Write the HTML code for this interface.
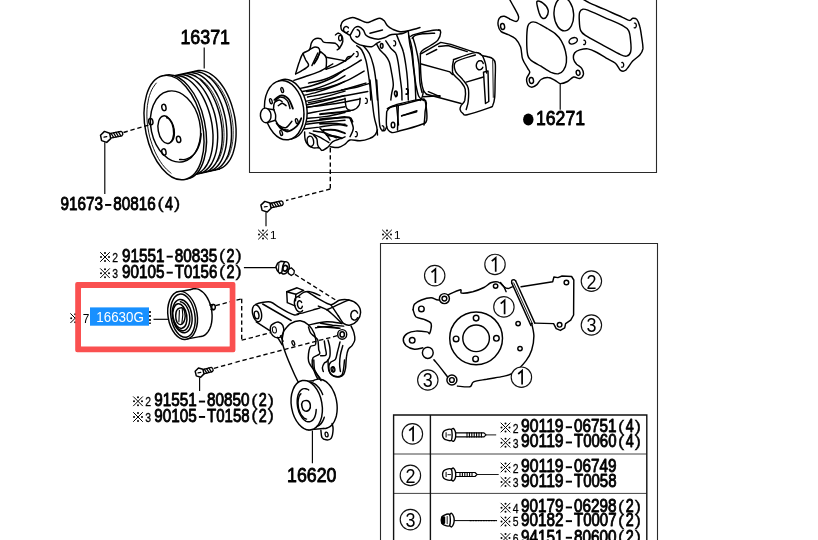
<!DOCTYPE html>
<html>
<head>
<meta charset="utf-8">
<title>Parts diagram</title>
<style>
html,body{margin:0;padding:0;background:#fff;}
body{width:818px;height:540px;overflow:hidden;position:relative;font-family:"Liberation Serif",serif;}
svg{position:absolute;left:0;top:0;display:block;will-change:transform;}
.t{font-family:"Liberation Sans",sans-serif;font-weight:normal;fill:#000;stroke:#000;stroke-width:0.9;stroke-linejoin:round;}
.p{font-family:"Liberation Sans",sans-serif;fill:#000;stroke:#000;stroke-width:0.35;}
.k{font-family:"Liberation Sans",sans-serif;fill:#000;stroke:#000;stroke-width:0.3;}
.s{font-family:"Liberation Sans",sans-serif;fill:#000;}
.l{fill:none;stroke:#000;stroke-width:1.45;stroke-linecap:round;stroke-linejoin:round;}
.lw{fill:#fff;stroke:#000;stroke-width:1.45;stroke-linecap:round;stroke-linejoin:round;}
.ld{fill:none;stroke:#000;stroke-width:1.15;}
.d{fill:none;stroke:#000;stroke-width:1.35;stroke-dasharray:4.4 2.8;}
.b{fill:none;stroke:#2a2a2a;stroke-width:1.1;}
</style>
</head>
<body>
<svg width="818" height="540" viewBox="0 0 818 540">
<defs>
<g id="kome">
<path d="M-4.8,-4.8 L4.8,4.8 M4.8,-4.8 L-4.8,4.8" stroke="#000" stroke-width="1" fill="none"/>
<circle cx="0" cy="-4" r="1"/><circle cx="0" cy="4" r="1"/><circle cx="-4" cy="0" r="1"/><circle cx="4" cy="0" r="1"/>
</g>
</defs>

<!-- BOXES -->
<g id="boxes">
<path class="b" d="M249.5,0 V172.5 H656.5 V0"/>
<path class="b" d="M380.5,540 V243.5 H657.5 V540"/>
<path class="b" d="M393.5,454 H646.5 M393.5,493.4 H646.5" style="stroke:#444;stroke-width:1"/>
<path class="b" d="M393.6,540 V415 H646.8 V540 M430.4,415 V540" style="stroke:#111;stroke-width:1.4"/>
</g>

<g id="pulley">
<path class="l" d="M197.5,70.6C198.2,70.6 200.4,70.4 202,70.6C203.5,70.8 205,71.2 206.6,71.9C208.1,72.5 209.7,73.3 211.2,74.4C212.8,75.4 214.3,76.6 215.8,78C217.2,79.4 218.7,81 220.1,82.7C221.5,84.5 222.8,86.4 224.1,88.4C225.3,90.4 226.5,92.6 227.6,94.9C228.7,97.2 229.7,99.6 230.6,102C231.5,104.5 232.3,107.1 233,109.6C233.7,112.2 234.3,114.9 234.8,117.5C235.3,120.1 235.6,122.8 235.8,125.5C236.1,128.1 236.2,130.7 236.1,133.3C236.1,135.8 236,138.3 235.7,140.7C235.4,143.1 235.1,145.5 234.5,147.7C234,149.9 233.4,152 232.7,153.9C231.9,155.9 231.1,157.7 230.2,159.3C229.2,160.9 228.2,162.4 227,163.7C225.9,165 224.7,166.1 223.4,167C222.1,167.9 220,168.7 219.4,169.1"/>
<path class="l" d="M192.8,71.7C193.6,71.7 195.8,71.4 197.3,71.7C198.9,71.9 200.4,72.3 202,72.9C203.5,73.5 205.1,74.4 206.6,75.4C208.1,76.4 209.7,77.6 211.2,79C212.6,80.4 214.1,82 215.5,83.8C216.8,85.5 218.2,87.4 219.4,89.5C220.7,91.5 221.9,93.7 223,95.9C224.1,98.2 225.1,100.6 226,103.1C226.9,105.5 227.7,108.1 228.4,110.7C229.1,113.3 229.7,115.9 230.2,118.6C230.6,121.2 231,123.9 231.2,126.5C231.4,129.1 231.5,131.7 231.5,134.3C231.5,136.8 231.4,139.4 231.1,141.8C230.8,144.2 230.4,146.5 229.9,148.7C229.4,150.9 228.8,153 228.1,155C227.3,156.9 226.5,158.7 225.5,160.3C224.6,162 223.5,163.5 222.4,164.7C221.3,166 220.1,167.1 218.8,168C217.5,168.9 215.4,169.8 214.8,170.1"/>
<path class="l" d="M188.2,72.7C189,72.7 191.2,72.5 192.7,72.7C194.2,72.9 195.8,73.3 197.4,73.9C198.9,74.6 200.5,75.4 202,76.4C203.5,77.4 205.1,78.7 206.5,80.1C208,81.5 209.5,83.1 210.8,84.8C212.2,86.5 213.6,88.5 214.8,90.5C216.1,92.5 217.3,94.7 218.4,97C219.5,99.3 220.5,101.7 221.4,104.1C222.3,106.6 223.1,109.1 223.8,111.7C224.5,114.3 225.1,117 225.6,119.6C226,122.2 226.4,124.9 226.6,127.5C226.8,130.1 226.9,132.8 226.9,135.3C226.9,137.9 226.7,140.4 226.5,142.8C226.2,145.2 225.8,147.5 225.3,149.7C224.8,151.9 224.2,154.1 223.4,156C222.7,157.9 221.9,159.8 220.9,161.4C220,163 218.9,164.5 217.8,165.8C216.7,167.1 215.5,168.2 214.2,169.1C212.9,170 210.8,170.8 210.1,171.1"/>
<path class="l" d="M183.6,73.7C184.3,73.7 186.6,73.5 188.1,73.7C189.6,73.9 191.2,74.4 192.7,75C194.3,75.6 195.8,76.4 197.4,77.5C198.9,78.5 200.4,79.7 201.9,81.1C203.4,82.5 204.8,84.1 206.2,85.8C207.6,87.6 209,89.5 210.2,91.5C211.5,93.6 212.7,95.7 213.7,98C214.8,100.3 215.9,102.7 216.8,105.2C217.7,107.6 218.5,110.2 219.2,112.8C219.9,115.3 220.5,118 220.9,120.6C221.4,123.3 221.8,125.9 222,128.6C222.2,131.2 222.3,133.8 222.3,136.4C222.3,138.9 222.1,141.4 221.9,143.8C221.6,146.2 221.2,148.6 220.7,150.8C220.2,153 219.5,155.1 218.8,157C218.1,159 217.2,160.8 216.3,162.4C215.4,164 214.3,165.5 213.2,166.8C212.1,168.1 210.8,169.2 209.6,170.1C208.3,171 206.2,171.8 205.5,172.2"/>
<path class="l" d="M179,74.8C179.7,74.8 182,74.6 183.5,74.8C185,75 186.6,75.4 188.1,76C189.7,76.6 191.2,77.5 192.8,78.5C194.3,79.5 195.8,80.8 197.3,82.1C198.8,83.5 200.2,85.1 201.6,86.9C203,88.6 204.3,90.5 205.6,92.6C206.8,94.6 208,96.8 209.1,99.1C210.2,101.3 211.2,103.7 212.1,106.2C213.1,108.6 213.9,111.2 214.6,113.8C215.3,116.4 215.8,119 216.3,121.7C216.8,124.3 217.1,127 217.4,129.6C217.6,132.2 217.7,134.9 217.7,137.4C217.6,139.9 217.5,142.5 217.2,144.9C217,147.3 216.6,149.6 216.1,151.8C215.6,154 214.9,156.1 214.2,158.1C213.5,160 212.6,161.8 211.7,163.5C210.7,165.1 209.7,166.6 208.6,167.8C207.4,169.1 206.2,170.2 204.9,171.1C203.7,172 201.6,172.9 200.9,173.2"/>
<path class="l" d="M174.4,75.8C175.1,75.8 177.3,75.6 178.9,75.8C180.4,76 181.9,76.4 183.5,77C185,77.7 186.6,78.5 188.1,79.5C189.7,80.6 191.2,81.8 192.7,83.2C194.1,84.6 195.6,86.2 197,87.9C198.4,89.6 199.7,91.6 201,93.6C202.2,95.6 203.4,97.8 204.5,100.1C205.6,102.4 206.6,104.8 207.5,107.2C208.4,109.7 209.2,112.2 209.9,114.8C210.6,117.4 211.2,120.1 211.7,122.7C212.2,125.3 212.5,128 212.7,130.6C213,133.3 213.1,135.9 213,138.4C213,141 212.9,143.5 212.6,145.9C212.3,148.3 212,150.7 211.4,152.9C210.9,155.1 210.3,157.2 209.6,159.1C208.8,161 208,162.9 207.1,164.5C206.1,166.1 205.1,167.6 203.9,168.9C202.8,170.2 201.6,171.3 200.3,172.2C199,173.1 196.9,173.9 196.3,174.3"/>
<path class="l" d="M209.2,76.4C210,77 212.2,78.6 213.7,80C215.1,81.4 216.6,83 217.9,84.7C219.3,86.4 220.6,88.3 221.8,90.3C223,92.3 224.2,94.5 225.3,96.7C226.3,98.9 227.3,101.3 228.2,103.7C229.1,106.2 229.8,108.7 230.5,111.2C231.1,113.7 231.7,116.3 232.1,118.9C232.6,121.5 232.9,124.1 233.1,126.7C233.2,129.2 233.3,131.8 233.2,134.3C233.2,136.8 233,139.2 232.7,141.5C232.4,143.9 232,146.1 231.4,148.3C230.9,150.4 230.2,152.4 229.5,154.3C228.7,156.1 227.3,158.5 226.9,159.4" style="stroke-width:0.8"/>
<path class="l" d="M200,78.4C200.7,79 203,80.7 204.4,82.1C205.9,83.5 207.3,85 208.7,86.8C210,88.5 211.4,90.4 212.6,92.4C213.8,94.4 215,96.5 216,98.8C217.1,101 218.1,103.4 218.9,105.8C219.8,108.2 220.6,110.7 221.2,113.3C221.9,115.8 222.5,118.4 222.9,121C223.3,123.6 223.6,126.2 223.8,128.7C224,131.3 224.1,133.9 224,136.4C224,138.8 223.8,141.3 223.5,143.6C223.2,145.9 222.7,148.2 222.2,150.3C221.7,152.4 221,154.5 220.2,156.3C219.5,158.2 218.1,160.6 217.6,161.5" style="stroke-width:0.8"/>
<path class="l" d="M174.4,75.8 L197.5,70.6"/>
<path class="l" d="M196.3,174.3 L219.4,169.1"/>
<ellipse class="lw" cx="176.5" cy="127" rx="28.5" ry="53" transform="rotate(-12 176.5 127)"/>
<ellipse class="lw" cx="174" cy="127.6" rx="28.5" ry="53" transform="rotate(-12 174 127.6)"/>
<path class="l" d="M171.1,173.2C170.4,172.5 168.1,170.8 166.7,169.4C165.2,167.9 163.8,166.3 162.4,164.5C161.1,162.7 159.7,160.7 158.5,158.6C157.3,156.5 156.1,154.3 155,151.9C154,149.6 153,147.1 152.1,144.6C151.2,142.1 150.4,139.5 149.7,136.9C149.1,134.2 148.5,131.5 148.1,128.9C147.6,126.2 147.3,123.5 147.1,120.8C146.9,118.2 146.8,115.5 146.9,113C146.9,110.4 147.1,107.9 147.4,105.5C147.7,103.1 148.1,100.8 148.6,98.6C149.2,96.4 149.8,94.4 150.6,92.5C151.3,90.6 152.2,88.8 153.2,87.3C154.1,85.7 155.8,83.8 156.3,83.1" style="stroke-width:0.9"/>
<ellipse class="l" cx="175.5" cy="126.5" rx="24.5" ry="36" transform="rotate(-12 175.5 126.5)"/>
<path class="l" d="M201.1,133.7C201,134.6 200.9,137.2 200.6,138.9C200.4,140.5 200,142.2 199.6,143.7C199.1,145.2 198.6,146.7 197.9,148.1C197.3,149.4 196.6,150.7 195.8,151.9C195,153 194.1,154.1 193.2,155C192.2,155.9 191.2,156.7 190.1,157.4C189.1,158 188,158.5 186.8,158.9C185.7,159.3 184.5,159.5 183.2,159.6C182,159.6 180.2,159.4 179.6,159.4"/>
<ellipse class="l" cx="165.8" cy="129.7" rx="7.6" ry="14" transform="rotate(-10 165.8 129.7)"/>
<path class="l" d="M166.6,117.7C166.8,117.7 167.3,117.8 167.7,118C168,118.2 168.4,118.4 168.8,118.7C169.1,118.9 169.5,119.3 169.9,119.6C170.2,120 170.5,120.4 170.9,120.9C171.2,121.3 171.5,121.8 171.8,122.4C172.1,122.9 172.4,123.5 172.6,124.1C172.9,124.6 173.1,125.3 173.3,125.9C173.5,126.5 173.7,127.2 173.8,127.9C173.9,128.5 174.1,129.2 174.2,129.9C174.2,130.6 174.3,131.2 174.3,131.9C174.4,132.6 174.4,133.2 174.3,133.9C174.3,134.5 174.2,135.2 174.2,135.7C174.1,136.3 173.9,136.9 173.8,137.5C173.6,138 173.5,138.5 173.3,139C173.1,139.4 172.8,139.9 172.6,140.2C172.3,140.6 172.1,141 171.8,141.2C171.5,141.5 171,141.8 170.8,141.9"/>
<ellipse class="l" cx="163.9" cy="107.5" rx="2.1" ry="3.2" transform="rotate(-12 163.9 107.5)"/>
<ellipse class="l" cx="150.8" cy="121.6" rx="2.1" ry="3.2" transform="rotate(-12 150.8 121.6)"/>
<ellipse class="l" cx="178.6" cy="139.4" rx="2.1" ry="3.2" transform="rotate(-12 178.6 139.4)"/>
<ellipse class="l" cx="163.9" cy="152" rx="2.1" ry="3.2" transform="rotate(-12 163.9 152)"/>
<path class="ld" d="M204.2,47.5 L204.2,68.5"/>
<path class="lw" d="M110.5,138.2 L121.8,135.8 L122.8,134.4 L122.3,132.2 L120.9,131.3 L109.5,133.7Z" style="stroke-width:1.3"/>
<path class="l" d="M113.7,137.5 L111.1,133.4" style="stroke-width:1.3"/>
<path class="l" d="M116.1,137 L113.5,132.9" style="stroke-width:1.3"/>
<path class="l" d="M118.5,136.5 L115.9,132.3" style="stroke-width:1.3"/>
<path class="l" d="M120.9,136 L118.4,131.8" style="stroke-width:1.3"/>
<path class="lw" d="M110.7,138.6 L106.7,142.4 L101.6,140.6 L100.5,135.2 L104.5,131.4 L109.6,133.2Z" style="stroke-width:1.5;stroke-linejoin:round"/>
<path class="l" d="M104,137.1 L106.8,136.7" style="stroke-width:1.2"/>
<path class="d" d="M123.5,132.5 L150,124.7"/>
<path class="ld" d="M104.8,142.3 L104.8,194"/>
</g>

<g id="pump">
<path class="l" d="M293.9,80.4C295.8,79.8 301.3,78 305.5,76.5C309.8,75.1 314.6,73.8 319.2,71.7C323.7,69.6 330.5,65.2 332.8,63.9"/>
<path class="l" d="M296.8,89.2C299.6,88.5 307.3,87.2 313.3,85.3C319.3,83.3 327.6,80.1 332.8,77.5C337.9,74.9 342.5,71 344.4,69.7"/>
<path class="l" d="M298.7,92.1C301.5,91.5 309.3,90.6 315.3,88.8C321.3,87 329.7,83.6 334.7,81.4C339.7,79.2 343.3,76.5 345,75.6"/>
<path class="l" d="M300.7,96C303.4,95.3 311.2,93.9 317.2,92.1C323.2,90.3 332,87.1 336.6,85.3C341.3,83.5 343.6,82 345,81.4"/>
<path class="l" d="M303.6,101.8C306.5,101.1 314.2,99.7 321.1,97.9C328,96.1 341,92.2 345,91.1"/>
<path class="l" d="M305.2,105.1C308.1,104.5 316.4,102.8 323,101.2C329.7,99.6 341.3,96.4 345,95.4"/>
<path class="l" d="M306.5,107.6C309.6,107 318.6,105.2 325,103.7C331.4,102.3 341.7,99.7 345,98.9"/>
<path class="l" d="M307.5,113.5C309.8,113 314.8,112.1 321.1,110.9C327.3,109.8 341,107.4 345,106.7"/>
<path class="l" d="M307.5,118.3C310.7,118 320.7,117.3 326.9,116.4C333.2,115.4 342,113.1 345,112.5"/>
<path class="l" d="M307.1,121.8C310.1,121.4 318.7,120.3 325,119.5C331.3,118.6 341.7,117.2 345,116.8"/>
<path class="l" d="M306.5,124.2C309.3,123.8 316.6,122.9 323,122.2C329.5,121.6 341.3,120.6 345,120.3"/>
<path class="l" d="M303.6,129C306.2,128.7 314.3,127.7 319.2,127.1C324,126.4 328.5,125.6 332.8,125.1C337.1,124.6 343,124.3 345,124.2"/>
<path class="l" d="M313.3,131C315.3,131.3 321.1,131.8 325,132.9C328.9,134 334.7,137 336.6,137.8"/>
<path class="l" d="M309.4,132.9C311.1,133.5 315.9,135.2 319.2,136.8C322.4,138.4 327.3,141.6 328.9,142.6"/>
<path class="l" d="M304.6,131.9C304.7,133.2 304.5,137.4 305.2,139.7C305.8,142 307.1,144.2 308.5,145.5C309.8,146.9 311.5,147.5 313.3,147.9C315.1,148.3 317.7,147.4 319.2,147.9C320.6,148.3 320.6,150.5 322.1,150.4C323.5,150.3 326.1,148.5 327.9,147.1C329.7,145.6 330.7,143 332.8,141.6C334.9,140.3 338.5,139.5 340.5,138.7C342.6,137.9 344.3,137.1 345,136.8"/>
<ellipse class="l" cx="310.4" cy="141.3" rx="3.2" ry="5.2" transform="rotate(-10 310.4 141.3)"/>
<path class="l" d="M313.3,134.8C313.9,135.5 316.1,137.1 316.8,138.7C317.5,140.4 317.2,143 317.6,144.6C318,146.1 318.9,147.3 319.2,147.9"/>
<ellipse class="lw" cx="287.3" cy="109.2" rx="19.6" ry="30" transform="rotate(-8 287.3 109.2)"/>
<ellipse class="lw" cx="284.2" cy="110.2" rx="19.5" ry="29.8" transform="rotate(-8 284.2 110.2)"/>
<path class="l" d="M273.5,109.6C273.6,108.4 273.5,104.8 274.4,102.8C275.4,100.7 277.7,98.1 279.3,97.3C280.9,96.5 283.4,97.8 284.2,97.9"/>
<path class="l" d="M275.4,101.8C276.1,101.5 278.2,99.9 279.3,99.9C280.4,99.9 281.7,101.5 282.2,101.8"/>
<path class="l" d="M275.4,120.3C276.1,121.2 277.5,124.5 279.3,125.7C281.1,126.9 284,128.2 286.1,127.5C288.2,126.7 291,122.3 291.9,121.2"/>
<path class="l" d="M276.4,123.2C277.2,124.2 279.3,127.9 281.2,129C283.2,130.1 286.9,129.8 288,130"/>
<path class="l" d="M284.2,97.9C284.8,98.6 287.1,100 288,101.8C289,103.6 289.7,107.5 290,108.6"/>
<path class="l" d="M266.7,108.6 L273.9,109.8"/>
<path class="l" d="M267.6,122.6 L275.4,120.3"/>
<path class="l" d="M273.9,109.8C274.1,110.6 275.3,113.1 275.6,114.8C275.9,116.6 275.4,119.4 275.4,120.3"/>
<ellipse class="lw" cx="265.7" cy="115.4" rx="5.3" ry="7.3" transform="rotate(-5 265.7 115.4)"/>
<ellipse class="l" cx="282.2" cy="90.1" rx="1.2" ry="2.6" transform="rotate(-15 282.2 90.1)" style="stroke-width:1.4"/>
<ellipse class="l" cx="296.8" cy="121.2" rx="1.2" ry="2.6" transform="rotate(-15 296.8 121.2)" style="stroke-width:1.4"/>
<ellipse class="l" cx="281.2" cy="132.9" rx="1.2" ry="2.6" transform="rotate(-15 281.2 132.9)" style="stroke-width:1.4"/>
<ellipse class="l" cx="270.9" cy="101.2" rx="1.2" ry="2.6" transform="rotate(-15 270.9 101.2)" style="stroke-width:1.4"/>
<path class="l" d="M340.8,25.8C341.1,25.1 341.5,22.8 342.5,21.7C343.5,20.6 345,19.9 346.7,19.2C348.3,18.5 350.6,17.5 352.5,17.5C354.4,17.5 356.4,18.5 358.3,19.2C360.3,19.9 362.5,21.1 364.2,21.7C365.8,22.2 366.7,22.8 368.3,22.5C370,22.2 372.2,20.7 374.2,20C376.1,19.3 378.3,18.2 380,18.3C381.7,18.5 382.9,19.6 384.2,20.8C385.4,22.1 386.1,24.4 387.5,25.8C388.9,27.2 390.4,28.2 392.5,29.2C394.6,30.1 397.4,31.4 400,31.7C402.6,31.9 405,31.5 408.3,30.8C411.7,30.1 418.1,28.1 420,27.5"/>
<path class="l" d="M340.8,25.8C341,26.5 340.7,28.8 341.7,30C342.6,31.2 345.3,32.5 346.7,33.3C348.1,34.2 349,35.4 350,35C351,34.6 351.7,32.1 352.5,30.8C353.3,29.6 353.9,28.2 355,27.5C356.1,26.8 357.8,26.2 359.2,26.7C360.6,27.1 362.2,28.6 363.3,30C364.4,31.4 364.7,33.8 365.8,35C366.9,36.2 367.9,36.8 370,37.5C372.1,38.2 375.8,39.2 378.3,39.2C380.8,39.2 383.1,38.2 385,37.5C386.9,36.8 388.1,35.6 390,35C391.9,34.4 394.4,34.4 396.7,34.2C398.9,33.9 401.4,33.9 403.3,33.3C405.3,32.8 407.5,31.2 408.3,30.8"/>
<path class="l" d="M350,35C350.3,35.7 350.6,37.8 351.7,39.2C352.8,40.6 354.7,42.2 356.7,43.3C358.6,44.4 360.8,45.3 363.3,45.8C365.8,46.4 369.4,47.1 371.7,46.7C373.9,46.2 375.3,44.2 376.7,43.3C378.1,42.5 379.4,41.9 380,41.7"/>
<path class="l" d="M348.2,31.4C348.1,31.5 348,31.7 347.9,31.8C347.8,31.9 347.7,32 347.5,32C347.4,32.1 347.3,32.2 347.2,32.3C347,32.3 346.9,32.4 346.8,32.4C346.7,32.5 346.5,32.5 346.4,32.5C346.2,32.5 346.1,32.5 346,32.5C345.8,32.5 345.7,32.5 345.6,32.4C345.4,32.4 345.3,32.3 345.2,32.3C345,32.2 344.9,32.1 344.8,32.1C344.7,32 344.6,31.9 344.5,31.8C344.4,31.7 344.3,31.6 344.2,31.4C344.1,31.3 344,31.2 343.9,31.1C343.9,30.9 343.8,30.8 343.8,30.6C343.7,30.5 343.7,30.3 343.6,30.2C343.6,30 343.6,29.9 343.6,29.7C343.6,29.6 343.6,29.4 343.6,29.2C343.6,29.1 343.6,28.9 343.6,28.8C343.7,28.6 343.7,28.5 343.8,28.3C343.8,28.2 343.9,28 344,27.9C344,27.8 344.1,27.6 344.2,27.5C344.3,27.4 344.4,27.3 344.5,27.2C344.6,27.1 344.7,27 344.8,26.9C345,26.8 345.1,26.8 345.2,26.7C345.3,26.7 345.5,26.6 345.6,26.6C345.7,26.5 345.9,26.5 346,26.5C346.1,26.5 346.3,26.5 346.4,26.5C346.6,26.5 346.7,26.6 346.8,26.6C347,26.6 347.1,26.7 347.2,26.8C347.3,26.8 347.5,26.9 347.6,27C347.7,27.1 347.8,27.2 347.9,27.3C348,27.4 348.1,27.5 348.2,27.6C348.3,27.7 348.4,27.9 348.4,28"/>
<path class="l" d="M357.2,29.7C357.2,29.7 357.4,29.7 357.6,29.8C357.7,29.8 357.9,29.9 358,29.9C358.1,30 358.2,30 358.4,30.1C358.5,30.2 358.6,30.3 358.7,30.4C358.8,30.6 358.9,30.7 359,30.8C359.1,31 359.2,31.1 359.3,31.3C359.4,31.4 359.4,31.6 359.5,31.8C359.6,31.9 359.6,32.1 359.7,32.3C359.7,32.5 359.7,32.7 359.7,32.8C359.8,33 359.8,33.2 359.8,33.4C359.8,33.6 359.7,33.8 359.7,34C359.7,34.2 359.7,34.4 359.6,34.5C359.6,34.7 359.5,34.9 359.4,35.1C359.4,35.2 359.3,35.4 359.2,35.5C359.1,35.7 359,35.8 358.9,36C358.8,36.1 358.7,36.2 358.6,36.3C358.5,36.4 358.4,36.5 358.3,36.6C358.1,36.7 358,36.7 357.9,36.8C357.7,36.9 357.6,36.9 357.5,36.9C357.3,36.9 357.2,36.9 357,36.9C356.9,36.9 356.8,36.9 356.6,36.9C356.5,36.8 356.4,36.8 356.2,36.7C356.1,36.6 355.9,36.5 355.9,36.5"/>
<path class="l" d="M370,33.3 L382.5,30"/>
<path class="l" d="M295.6,73.9C296.2,71.9 298,65.2 299.3,61.9C300.5,58.5 301.3,55.5 303,53.5C304.7,51.5 308.1,51.5 309.4,49.8C310.8,48.1 310.5,45.1 311.3,43.3C312.1,41.6 312.5,40 314.1,39.3C315.6,38.5 318.9,38.2 320.6,38.7C322.3,39.2 321.8,41.6 324.3,42.4C326.7,43.2 332.8,42.4 335.4,43.3C337.9,44.3 338.9,47.2 339.6,48"/>
<path class="l" d="M303,53.5C303.4,54.6 304.8,58 305.7,60C306.7,62 309.3,63.7 308.5,65.6C307.7,67.4 303.3,69.7 301.1,71.1C299,72.5 296.5,73.4 295.6,73.9"/>
<path class="l" d="M309.4,49.8C310.4,49.4 313.3,47 315,47C316.7,47 319.2,48 319.6,49.8C320.1,51.7 318.7,55.8 317.8,58.1C316.9,60.5 314.7,62.8 314.1,63.7"/>
<path class="l" d="M320.6,51.7C321.5,52.6 325.2,54.3 326.1,57.2C327,60.2 326.1,67.3 326.1,69.3"/>
<path class="l" d="M314.1,63.7 L320.6,51.7"/>
<path class="l" d="M311.9,65.6 L317.8,53"/>
<path class="l" d="M335.4,35C335.9,34.7 337.4,33 338.5,33.1C339.6,33.3 341.1,34.5 341.9,35.9C342.6,37.3 343.1,39.5 342.8,41.5C342.4,43.5 340.6,46.6 339.6,48C338.7,49.4 337.6,49.5 337.2,49.8"/>
<ellipse class="l" cx="340.2" cy="38.1" rx="1.6" ry="2.8" style="stroke-width:1.3"/>
<path class="l" d="M326.1,57.2 L345.6,60.9"/>
<path class="l" d="M345.6,60.9C345.9,60.3 346.5,58 347.4,57.2C348.3,56.5 350.5,56.5 351.1,56.3"/>
<path class="l" d="M356.7,45.8C357.5,46.5 360.1,47.6 361.7,50C363.2,52.4 364.7,56.1 365.8,60C366.9,63.9 367.6,68.9 368.3,73.3C369,77.8 369.6,82.2 370,86.7C370.4,91.1 370.7,97.8 370.8,100"/>
<path class="l" d="M363.3,45.8C364.3,47.1 367.5,50.1 369.2,53.3C370.8,56.5 372.2,60.6 373.3,65C374.4,69.4 375.1,74.2 375.8,80C376.5,85.8 377.2,96.7 377.5,100"/>
<path class="l" d="M376.7,44.2C377.2,45.1 378.6,48.2 380,50C381.4,51.8 383.5,53.1 385,55C386.5,56.9 388.1,58.6 389.2,61.7C390.3,64.7 391,69.4 391.7,73.3C392.4,77.2 393.3,81.7 393.3,85C393.3,88.3 392.1,90.8 391.7,93.3C391.2,95.8 391,98.9 390.8,100"/>
<path class="l" d="M385.8,40.8C386.7,42.1 389.2,46.2 390.8,48.3C392.5,50.4 394.6,50.8 395.8,53.3C397.1,55.8 397.6,59.4 398.3,63.3C399,67.2 399.4,72.2 400,76.7C400.6,81.1 401.3,86.1 401.7,90C402,93.9 401.9,98.3 402,100"/>
<path class="l" d="M396.7,35C397.2,36.4 398.9,40.6 400,43.3C401.1,46.1 402.4,48.1 403.3,51.7C404.3,55.3 405.1,60.3 405.8,65C406.5,69.7 407.1,74.2 407.5,80C407.9,85.8 408.2,96.7 408.3,100"/>
<path class="l" d="M408.3,31.7C408.6,33.6 409.1,39.7 409.7,43.3C410.2,46.9 411.1,49.4 411.7,53.3C412.3,57.2 412.8,61.9 413.3,66.7C413.9,71.4 414.6,76.1 415,81.7C415.4,87.2 415.7,96.9 415.8,100"/>
<path class="l" d="M356.4,51.6C356.4,51.6 356.6,51.6 356.6,51.6C356.7,51.6 356.8,51.6 356.9,51.6C357,51.6 357,51.6 357.1,51.7C357.2,51.7 357.3,51.8 357.3,51.8C357.4,51.9 357.5,52 357.5,52.1C357.6,52.1 357.7,52.2 357.7,52.3C357.8,52.4 357.8,52.5 357.9,52.6C357.9,52.7 358,52.9 358,53C358,53.1 358.1,53.2 358.1,53.4C358.1,53.5 358.1,53.6 358.1,53.8C358.2,53.9 358.2,54 358.2,54.2C358.2,54.3 358.2,54.5 358.1,54.6C358.1,54.7 358.1,54.9 358.1,55C358.1,55.1 358,55.3 358,55.4C358,55.5 357.9,55.6 357.9,55.7C357.8,55.8 357.8,55.9 357.7,56C357.6,56.1 357.6,56.2 357.5,56.3C357.5,56.4 357.4,56.5 357.3,56.5C357.2,56.6 357.2,56.6 357.1,56.7C357,56.7 356.9,56.7 356.9,56.7C356.8,56.8 356.7,56.8 356.6,56.8C356.5,56.8 356.5,56.7 356.4,56.7C356.3,56.7 356.2,56.6 356.2,56.6" style="stroke-width:1.3"/>
<path class="l" d="M393.9,40.8C393.9,40.8 394.1,40.7 394.1,40.7C394.2,40.7 394.3,40.7 394.4,40.8C394.5,40.8 394.5,40.8 394.6,40.9C394.7,40.9 394.8,40.9 394.8,41C394.9,41.1 395,41.1 395,41.2C395.1,41.3 395.2,41.4 395.2,41.5C395.3,41.6 395.3,41.7 395.4,41.8C395.4,41.9 395.5,42 395.5,42.2C395.5,42.3 395.6,42.4 395.6,42.5C395.6,42.7 395.6,42.8 395.6,42.9C395.7,43.1 395.7,43.2 395.7,43.4C395.7,43.5 395.7,43.6 395.6,43.8C395.6,43.9 395.6,44 395.6,44.2C395.6,44.3 395.5,44.4 395.5,44.5C395.5,44.7 395.4,44.8 395.4,44.9C395.3,45 395.3,45.1 395.2,45.2C395.1,45.3 395.1,45.4 395,45.5C395,45.5 394.9,45.6 394.8,45.7C394.7,45.7 394.7,45.8 394.6,45.8C394.5,45.9 394.4,45.9 394.4,45.9C394.3,45.9 394.2,45.9 394.1,45.9C394,45.9 394,45.9 393.9,45.9C393.8,45.9 393.7,45.8 393.7,45.8" style="stroke-width:1.3"/>
<path class="l" d="M406.4,89.1C406.4,89.1 406.6,89.1 406.6,89.1C406.7,89.1 406.8,89.1 406.9,89.1C407,89.1 407,89.1 407.1,89.2C407.2,89.2 407.3,89.3 407.3,89.3C407.4,89.4 407.5,89.5 407.5,89.6C407.6,89.6 407.7,89.7 407.7,89.8C407.8,89.9 407.8,90 407.9,90.1C407.9,90.2 408,90.4 408,90.5C408,90.6 408.1,90.7 408.1,90.9C408.1,91 408.1,91.1 408.1,91.3C408.2,91.4 408.2,91.5 408.2,91.7C408.2,91.8 408.2,92 408.1,92.1C408.1,92.2 408.1,92.4 408.1,92.5C408.1,92.6 408,92.8 408,92.9C408,93 407.9,93.1 407.9,93.2C407.8,93.3 407.8,93.4 407.7,93.5C407.6,93.6 407.6,93.7 407.5,93.8C407.5,93.9 407.4,94 407.3,94C407.2,94.1 407.2,94.1 407.1,94.2C407,94.2 406.9,94.2 406.9,94.2C406.8,94.3 406.7,94.3 406.6,94.3C406.5,94.3 406.5,94.2 406.4,94.2C406.3,94.2 406.2,94.1 406.2,94.1" style="stroke-width:1.3"/>
<ellipse class="l" cx="381.7" cy="45.8" rx="1.3" ry="2.4" style="stroke-width:1.5"/>
<ellipse class="l" cx="395.8" cy="93.3" rx="1.3" ry="2.4" style="stroke-width:1.5"/>
<path class="l" d="M326.1,69.3C327.8,68.6 332.4,67.4 336.3,65.6C340.2,63.7 346.3,60.2 349.3,58.1C352.2,56.1 353.1,54.3 353.9,53.5"/>
<path class="l" d="M308.5,83.1C311.6,82.4 320.9,80.8 327,78.5C333.2,76.2 339.8,72.3 345.6,69.3C351.3,66.2 358.7,61.5 361.3,60"/>
<path class="l" d="M306.7,91.5C310.1,90.9 320.2,89.6 327,87.8C333.8,85.9 341.2,83.1 347.4,80.4C353.6,77.6 361.3,72.7 364.1,71.1"/>
<path class="l" d="M307.6,97C312.4,96.1 326.6,93.8 336.3,91.5C346,89.2 361,84.5 365.9,83.1"/>
<path class="l" d="M308.5,102.6C313.5,101.7 328.3,98.9 338.1,97C348,95.2 362.8,92.4 367.8,91.5"/>
<path class="l" d="M306.7,107.2C311.6,106.6 327.3,104.9 336.3,103.5C345.2,102.1 356.4,99.7 360.4,98.9"/>
<path class="l" d="M408.7,35.4C409.2,37.4 410.9,42.2 411.8,47.6C412.6,53 413.1,61.9 413.8,68C414.5,74.1 415,79.5 415.8,84.3C416.7,89 417.5,93.8 418.9,96.5C420.3,99.2 423.1,99.9 424,100.6"/>
<path class="l" d="M410.7,36.4C411.4,36.1 411.1,35.4 414.8,34.4C418.6,33.3 428.9,31 433.2,30.3C437.4,29.6 439.1,30.3 440.3,30.3"/>
<path class="l" d="M412.8,37.4C413.3,39.1 414.8,43.2 415.8,47.6C416.9,52 418.2,58.1 418.9,63.9C419.6,69.7 419.4,77.5 419.9,82.2C420.4,87 421.6,90.7 422,92.4"/>
<path class="l" d="M438.7,29.8C439,30.2 440.9,30.5 440.7,32.2C440.6,34 439.4,38.2 437.7,40.4C436,42.6 433.1,43.8 430.5,45.5C428,47.2 424.1,49.2 422.4,50.5C420.7,51.9 420.7,53.1 420.4,53.6"/>
<path class="l" d="M412.2,38.3C412.7,37.8 413.6,36 415.3,35.3C417,34.5 419.2,34.2 422.4,33.8C425.6,33.5 432.6,33.3 434.6,33.2"/>
<path class="l" d="M421.4,53.6 L440.7,42.4 L450.9,44.4 L475.4,52.6 L480.4,53.6"/>
<path class="l" d="M438.7,46.5 L447.9,45.5 L467.2,51.6"/>
<path class="l" d="M426.5,54.6 L436.7,49.5"/>
<path class="l" d="M420.4,53.6C420.4,55.3 420.2,59.2 420.4,63.8C420.5,68.4 420.9,76.7 421.4,81.1C421.9,85.5 422.6,88.1 423.4,90.3C424.3,92.5 426,93.7 426.5,94.3"/>
<path class="l" d="M426.5,94.3 L461.1,103.5"/>
<path class="l" d="M420.4,63.8 L449.9,71.9 L452.5,74.6"/>
<path class="l" d="M423.4,90.3C423.3,91.3 422.9,94.7 422.4,96.4C421.9,98.1 420.7,99.8 420.4,100.4"/>
<path class="lw" d="M453.4,60.7C453.9,58.5 452.3,60.1 456,58.7C459.7,57.3 470.9,53.1 475.4,52.6C479.8,52.1 480.4,55 482.5,55.6C484.5,56.3 485.9,56.2 487.6,56.7C489.3,57.2 491.4,57.5 492.7,58.7C494,59.9 494.9,60.1 495.3,63.8C495.7,67.5 495.2,75.5 495.1,81.1C495,86.7 495.1,93.3 494.7,97.4C494.3,101.5 493.5,103.8 492.7,105.5C491.8,107.2 493.9,106 489.6,107.6C485.4,109.1 471.6,113.7 467.2,114.7C462.8,115.7 464.3,114.5 463.1,113.7C461.9,112.8 460.4,111 460.1,109.6C459.7,108.3 460.3,107.1 461.1,105.5C461.9,104 464.1,103.2 464.8,100.4C465.4,97.7 465.8,92.3 465.2,89.2C464.6,86.2 462.8,84.3 461.1,82.1C459.4,79.9 456.4,77.7 455,76C453.6,74.3 452.8,74.5 452.5,71.9C452.3,69.4 452.8,62.9 453.4,60.7Z"/>
<path class="l" d="M475.4,55C472.1,56.2 459.3,59.1 456,61.8C452.7,64.4 454.2,67.9 455.4,70.9C456.6,74 461,77.2 463.1,80.1C465.3,83 467.4,84.7 468.2,88.2C469.1,91.8 468.6,97.9 468.2,101.5C467.9,105 466.5,108.3 466.2,109.6"/>
<path class="l" d="M482.8,67.3C482.7,67.4 482.6,67.8 482.5,67.9C482.3,68.1 482.2,68.3 482.1,68.5C481.9,68.7 481.7,68.8 481.6,69C481.4,69.1 481.3,69.2 481.1,69.3C480.9,69.4 480.7,69.5 480.5,69.6C480.4,69.7 480.2,69.7 480,69.7C479.8,69.8 479.6,69.8 479.4,69.8C479.2,69.8 479,69.8 478.9,69.7C478.7,69.7 478.5,69.6 478.3,69.5C478.2,69.4 478,69.3 477.8,69.2C477.7,69.1 477.5,69 477.4,68.8C477.3,68.7 477.1,68.5 477,68.3C476.9,68.2 476.8,68 476.7,67.8C476.6,67.6 476.6,67.3 476.5,67.1C476.4,66.9 476.4,66.7 476.4,66.4C476.3,66.2 476.3,66 476.3,65.7C476.3,65.5 476.3,65.2 476.3,65C476.4,64.8 476.4,64.5 476.5,64.3C476.5,64 476.6,63.8 476.7,63.6C476.7,63.4 476.8,63.1 477,62.9C477.1,62.7 477.2,62.5 477.3,62.3C477.4,62.1 477.6,62 477.7,61.8C477.9,61.6 478.1,61.5 478.2,61.4C478.4,61.2 478.6,61.1 478.7,61C478.9,60.9 479.1,60.8 479.3,60.8C479.5,60.7 479.7,60.7 479.8,60.7C480,60.6 480.2,60.6 480.4,60.7C480.6,60.7 480.8,60.7 481,60.8C481.1,60.8 481.3,60.9 481.5,61C481.6,61.1 481.8,61.2 481.9,61.3C482.1,61.4 482.2,61.6 482.4,61.7C482.5,61.9 482.6,62.1 482.7,62.2C482.8,62.4 482.9,62.6 483,62.8C483.1,63 483.2,63.4 483.2,63.5"/>
<path class="l" d="M482.5,55.6C483,57 484.9,60.9 485.5,63.8C486.2,66.7 486.4,71.4 486.6,73"/>
<path class="l" d="M483.5,72.3 L488,70.9 L488.8,101.5 L485.5,103.5 L483.5,72.3"/>
<path class="l" d="M492.7,59.7 L493.3,97.4" style="stroke-width:0.9"/>
<path class="l" d="M466.2,82.1 L483.5,77"/>
<path class="l" d="M387.3,108.7C388.8,108 390.4,106.2 396.5,104.6C402.6,103.1 419.2,98.2 424,99.6C428.7,100.9 425,108.6 425,112.8C425,117 424.2,123 424,125"/>
<path class="l" d="M396.5,104.6 L398.5,125"/>
<path class="l" d="M401.6,115.9 L416.9,110.8"/>
<path class="l" d="M406.4,88.6C406.4,88.6 406.6,88.6 406.7,88.6C406.7,88.6 406.8,88.6 406.9,88.6C407,88.7 407.1,88.7 407.2,88.7C407.2,88.8 407.3,88.8 407.4,88.9C407.5,89 407.5,89 407.6,89.1C407.7,89.2 407.7,89.3 407.8,89.4C407.9,89.5 407.9,89.6 408,89.8C408,89.9 408.1,90 408.1,90.1C408.1,90.3 408.2,90.4 408.2,90.5C408.2,90.7 408.2,90.8 408.3,91C408.3,91.1 408.3,91.3 408.3,91.4C408.3,91.6 408.3,91.7 408.3,91.9C408.2,92 408.2,92.2 408.2,92.3C408.2,92.4 408.1,92.6 408.1,92.7C408.1,92.8 408,93 408,93.1C407.9,93.2 407.8,93.3 407.8,93.4C407.7,93.5 407.7,93.6 407.6,93.7C407.5,93.8 407.4,93.9 407.4,93.9C407.3,94 407.2,94 407.1,94.1C407,94.1 407,94.2 406.9,94.2C406.8,94.2 406.7,94.2 406.6,94.2C406.5,94.2 406.5,94.2 406.4,94.2C406.3,94.1 406.2,94.1 406.1,94" style="stroke-width:1.3"/>
<path class="l" d="M330,146.7C331.4,146.8 335.8,147.9 338.3,147.5C340.8,147.1 343.1,145.4 345,144.2C346.9,142.9 347.5,140.6 350,140C352.5,139.4 356.7,141.1 360,140.8C363.3,140.6 367.5,139.3 370,138.3C372.5,137.4 373.8,136.4 375,135C376.2,133.6 377.1,130.8 377.5,130"/>
<path class="l" d="M370,80C370.3,82.8 371,90.6 371.7,96.7C372.4,102.8 373.3,111.7 374.2,116.7C375,121.7 376.1,123.6 376.7,126.7C377.2,129.7 377.4,133.6 377.5,135"/>
<path class="l" d="M376.7,80C376.9,84.2 377.8,97.2 378.3,105C378.9,112.8 379,122.4 380,126.7C381,131 383.1,130.8 384.2,130.8C385.3,130.8 386.2,127.4 386.7,126.7"/>
<path class="l" d="M386.7,111.7C387.2,111 387.8,108.6 390,107.5C392.2,106.4 395,106.2 400,105C405,103.8 415.8,100.7 420,100C424.2,99.3 423.9,97.5 425,100.8C426.1,104.2 427.5,116 426.7,120C425.8,124 424.4,123.2 420,125C415.6,126.8 404.7,129.6 400,130.8C395.3,132.1 393.9,133.2 391.7,132.5C389.4,131.8 387.5,130.1 386.7,126.7C385.8,123.2 386.7,114.2 386.7,111.7"/>
<path class="l" d="M398.3,105.8 L397.5,130"/>
<path class="l" d="M401.7,115.8 L416.7,111.7"/>
<ellipse class="l" cx="393" cy="125" rx="1.8" ry="2.8"/>
<path class="l" d="M365.6,98.3C365.6,98.3 365.7,98.2 365.8,98.2C365.9,98.2 366,98.2 366,98.3C366.1,98.3 366.2,98.3 366.3,98.4C366.4,98.4 366.4,98.4 366.5,98.5C366.6,98.6 366.6,98.6 366.7,98.7C366.8,98.8 366.8,98.9 366.9,99C366.9,99.1 367,99.2 367,99.3C367.1,99.4 367.1,99.5 367.2,99.7C367.2,99.8 367.2,99.9 367.3,100C367.3,100.2 367.3,100.3 367.3,100.4C367.3,100.6 367.3,100.7 367.3,100.9C367.3,101 367.3,101.1 367.3,101.3C367.3,101.4 367.3,101.5 367.3,101.7C367.2,101.8 367.2,101.9 367.2,102C367.1,102.2 367.1,102.3 367,102.4C367,102.5 366.9,102.6 366.9,102.7C366.8,102.8 366.8,102.9 366.7,103C366.6,103 366.6,103.1 366.5,103.2C366.4,103.2 366.3,103.3 366.3,103.3C366.2,103.4 366.1,103.4 366,103.4C365.9,103.4 365.9,103.4 365.8,103.4C365.7,103.4 365.6,103.4 365.6,103.4C365.5,103.4 365.4,103.3 365.3,103.3" style="stroke-width:1.3"/>
<path class="l" d="M355.6,131.6C355.6,131.6 355.7,131.6 355.8,131.6C355.9,131.6 356,131.6 356,131.6C356.1,131.6 356.2,131.6 356.3,131.7C356.4,131.7 356.4,131.8 356.5,131.8C356.6,131.9 356.6,132 356.7,132.1C356.8,132.1 356.8,132.2 356.9,132.3C356.9,132.4 357,132.5 357,132.6C357.1,132.7 357.1,132.9 357.2,133C357.2,133.1 357.2,133.2 357.3,133.4C357.3,133.5 357.3,133.6 357.3,133.8C357.3,133.9 357.3,134 357.3,134.2C357.3,134.3 357.3,134.5 357.3,134.6C357.3,134.7 357.3,134.9 357.3,135C357.2,135.1 357.2,135.3 357.2,135.4C357.1,135.5 357.1,135.6 357,135.7C357,135.8 356.9,135.9 356.9,136C356.8,136.1 356.8,136.2 356.7,136.3C356.6,136.4 356.6,136.5 356.5,136.5C356.4,136.6 356.3,136.6 356.3,136.7C356.2,136.7 356.1,136.7 356,136.7C355.9,136.8 355.9,136.8 355.8,136.8C355.7,136.8 355.6,136.7 355.6,136.7C355.5,136.7 355.4,136.6 355.3,136.6" style="stroke-width:1.3"/>
<path class="l" d="M395.6,91.6C395.6,91.6 395.7,91.6 395.8,91.6C395.9,91.6 396,91.6 396,91.6C396.1,91.6 396.2,91.6 396.3,91.7C396.4,91.7 396.4,91.8 396.5,91.8C396.6,91.9 396.6,92 396.7,92.1C396.8,92.1 396.8,92.2 396.9,92.3C396.9,92.4 397,92.5 397,92.6C397.1,92.7 397.1,92.9 397.2,93C397.2,93.1 397.2,93.2 397.3,93.4C397.3,93.5 397.3,93.6 397.3,93.8C397.3,93.9 397.3,94 397.3,94.2C397.3,94.3 397.3,94.5 397.3,94.6C397.3,94.7 397.3,94.9 397.3,95C397.2,95.1 397.2,95.3 397.2,95.4C397.1,95.5 397.1,95.6 397,95.7C397,95.8 396.9,95.9 396.9,96C396.8,96.1 396.8,96.2 396.7,96.3C396.6,96.4 396.6,96.5 396.5,96.5C396.4,96.6 396.3,96.6 396.3,96.7C396.2,96.7 396.1,96.7 396,96.7C395.9,96.8 395.9,96.8 395.8,96.8C395.7,96.8 395.6,96.7 395.6,96.7C395.5,96.7 395.4,96.6 395.3,96.6" style="stroke-width:1.3"/>
<path class="l" d="M406.4,89.1C406.4,89.1 406.6,89.1 406.6,89.1C406.7,89.1 406.8,89.1 406.9,89.1C407,89.1 407,89.1 407.1,89.2C407.2,89.2 407.3,89.3 407.3,89.3C407.4,89.4 407.5,89.5 407.5,89.6C407.6,89.6 407.7,89.7 407.7,89.8C407.8,89.9 407.8,90 407.9,90.1C407.9,90.2 408,90.4 408,90.5C408,90.6 408.1,90.7 408.1,90.9C408.1,91 408.1,91.1 408.1,91.3C408.2,91.4 408.2,91.5 408.2,91.7C408.2,91.8 408.2,92 408.1,92.1C408.1,92.2 408.1,92.4 408.1,92.5C408.1,92.6 408,92.8 408,92.9C408,93 407.9,93.1 407.9,93.2C407.8,93.3 407.8,93.4 407.7,93.5C407.6,93.6 407.6,93.7 407.5,93.8C407.5,93.9 407.4,94 407.3,94C407.2,94.1 407.2,94.1 407.1,94.2C407,94.2 406.9,94.2 406.9,94.2C406.8,94.3 406.7,94.3 406.6,94.3C406.5,94.3 406.5,94.2 406.4,94.2C406.3,94.2 406.2,94.1 406.2,94.1" style="stroke-width:1.3"/>
<path class="l" d="M382.2,125.8C382.3,125.8 382.4,125.7 382.5,125.7C382.6,125.7 382.6,125.7 382.7,125.8C382.8,125.8 382.9,125.8 382.9,125.9C383,125.9 383.1,125.9 383.2,126C383.2,126.1 383.3,126.1 383.4,126.2C383.4,126.3 383.5,126.4 383.6,126.5C383.6,126.6 383.7,126.7 383.7,126.8C383.8,126.9 383.8,127 383.8,127.2C383.9,127.3 383.9,127.4 383.9,127.5C384,127.7 384,127.8 384,127.9C384,128.1 384,128.2 384,128.4C384,128.5 384,128.6 384,128.8C384,128.9 383.9,129 383.9,129.2C383.9,129.3 383.9,129.4 383.8,129.5C383.8,129.7 383.7,129.8 383.7,129.9C383.7,130 383.6,130.1 383.5,130.2C383.5,130.3 383.4,130.4 383.4,130.5C383.3,130.5 383.2,130.6 383.1,130.7C383.1,130.7 383,130.8 382.9,130.8C382.9,130.9 382.8,130.9 382.7,130.9C382.6,130.9 382.5,130.9 382.5,130.9C382.4,130.9 382.3,130.9 382.2,130.9C382.1,130.9 382,130.8 382,130.8" style="stroke-width:1.3"/>
<path class="l" d="M423.3,96.7 L440,95.8"/>
<path class="l" d="M428.3,91.7 L440,96.7"/>
<path class="l" d="M345,98.3C345.3,100 345.3,106.4 346.7,108.3C348.1,110.3 351.2,110.6 353.3,110C355.4,109.4 358.1,106.9 359.2,105C360.3,103.1 359.9,99.4 360,98.3"/>
<path class="l" d="M341.7,90C344.4,89.4 353.6,87.8 358.3,86.7C363.1,85.6 368.1,83.9 370,83.3"/>
<path class="l" d="M350,118.3C350.6,120 353.3,125.3 353.3,128.3C353.3,131.4 350.6,135.3 350,136.7"/>
<path class="l" d="M320,114.2C322.8,113.9 331.7,113.1 336.7,112.5C341.7,111.9 347.8,111.1 350,110.8" style="stroke-width:1.9"/>
<path class="l" d="M320,119.2C322.5,119 330.1,118.3 335,118C339.9,117.7 346.2,116.9 349.2,117.5C352.1,118.1 351.9,121 352.5,121.7" style="stroke-width:1.9"/>
<path class="l" d="M320,123.7C322.8,123.7 332.2,123.3 336.7,123.7C341.1,124 345,125.5 346.7,125.8" style="stroke-width:1.9"/>
<path class="l" d="M323.3,130C325.3,130 331.4,129.4 335,130C338.6,130.6 343.3,132.8 345,133.3" style="stroke-width:1.9"/>
<path class="l" d="M326.7,135C328.3,135.3 334.2,136.1 336.7,136.7C339.2,137.2 340.8,138.1 341.7,138.3" style="stroke-width:1.9"/>
<path class="l" d="M320,128.3C321.1,129.4 325,133.1 326.7,135C328.3,136.9 329.4,139.2 330,140"/>
<path class="l" d="M274.4,99.9C275.6,99.1 278.9,95.5 281.2,95.4C283.6,95.2 286.5,96.7 288.4,98.9C290.4,101.1 292.2,107 292.9,108.6" style="stroke-width:1.8"/>
<path class="l" d="M279.3,126.1C280.6,127 284.2,131.5 287.1,131.5C290,131.5 294.4,128.3 296.8,126.1C299.2,123.9 300.5,119.6 301.3,118.3" style="stroke-width:1.8"/>
<path class="l" d="M278.3,105.7C279,105.3 280.9,103.2 282.2,103.2C283.5,103.2 285.5,105.3 286.1,105.7"/>
<path class="d" d="M330.3,148 L330.3,189" style="stroke-width:1.4"/>
<path class="d" d="M330.3,189 L286,200.5"/>
</g>

<g id="gasket">
<path class="l" d="M509.4,-1C510.2,0.5 512.9,5.3 514.5,8.2C516,11 518.2,14.1 518.5,16.3C518.9,18.5 517.9,20.9 516.5,21.4C515.1,21.9 512.4,20.2 510.4,19.4C508.3,18.5 506.1,16.5 504.3,16.3C502.4,16.1 500.2,16.8 499.2,18.3C498.2,19.9 497.8,23.3 498.2,25.5C498.5,27.7 499.5,30.1 501.2,31.6C502.9,33.1 506,33.5 508.3,34.7C510.7,35.8 513.4,36.7 515.5,38.7C517.5,40.8 519.4,43.5 520.6,46.9C521.8,50.3 521.4,55.5 522.6,59.1C523.8,62.7 526.5,66.1 527.7,68.3C528.9,70.5 529.9,70.7 529.7,72.4C529.6,74.1 527,76.4 526.7,78.5C526.4,80.5 526.9,83.1 527.7,84.6C528.6,86.1 530.3,87.2 531.8,87.2C533.3,87.2 535.4,85.9 536.9,84.6C538.4,83.3 539.1,80.7 541,79.5C542.8,78.3 545.7,77.3 548.1,77.5C550.5,77.6 553.2,79.5 555.2,80.5C557.3,81.5 558.3,83.4 560.3,83.6C562.4,83.7 565.2,82.6 567.5,81.5C569.7,80.4 571.5,77.6 573.6,77C575.6,76.5 578.1,78.9 579.7,78.5C581.3,78 583,76.1 583.4,74.4C583.7,72.7 582.8,70 581.7,68.3C580.6,66.6 578,65.7 576.6,64.2C575.3,62.7 573.9,61 573.6,59.1C573.2,57.2 573.6,54.5 574.6,53C575.6,51.5 577.5,50.6 579.7,49.9C581.9,49.3 585.1,48.6 587.8,48.9C590.6,49.3 592.9,50.4 596,52C599.1,53.5 603,56.2 606.2,58.1C609.4,60 613,61.1 615.4,63.2C617.7,65.2 618.8,69.1 620.5,70.3C622.2,71.5 623.5,71.9 625.5,70.3C627.6,68.8 630.3,63.7 632.7,61.1C635.1,58.6 638.1,57.1 639.8,55C641.5,53 642.5,51.6 642.9,48.9C643.2,46.2 642.4,42.5 641.9,38.7C641.3,35 640.7,29.7 639.8,26.5C639,23.3 637.9,20.7 636.8,19.4C635.6,18 633.9,18.2 632.7,18.3C631.5,18.5 631.3,20.6 629.6,20.4C627.9,20.2 626.7,19.2 622.5,17.3C618.2,15.5 609.6,11.6 604.1,9.2C598.7,6.8 593.4,4.8 589.9,3.1C586.3,1.4 583.9,-0.3 582.7,-1"/>
<path class="l" d="M527.7,26.5C528.4,23.4 529.4,23.1 530.8,22.4C532.1,21.7 533.1,21.4 535.9,22.4C538.6,23.4 543.8,26.7 547.1,28.5C550.3,30.4 552.8,31.6 555.2,33.6C557.6,35.7 559.6,37.9 561.3,40.8C563,43.7 564.6,47.4 565.4,51C566.3,54.5 566.8,58.9 566.4,62.2C566.1,65.4 564.7,68.4 563.4,70.3C562,72.3 560.3,73.4 558.3,73.8C556.2,74.1 554,73.6 551.1,72.4C548.3,71.1 544.4,68.3 541,66.2C537.6,64.2 533,62 530.8,60.1C528.6,58.3 528.4,58.3 527.7,55C527,51.8 526.7,45.5 526.7,40.8C526.7,36 527,29.6 527.7,26.5Z"/>
<ellipse class="l" cx="563.8" cy="14.3" rx="9.8" ry="16.6" transform="rotate(-4 563.8 14.3)"/>
<path class="l" d="M536.9,1.6C537.6,0.1 541.1,1.6 543,3.1C544.9,4.5 547.6,7.8 548.1,10.2C548.6,12.6 547.1,16 546.1,17.3C545,18.6 543.2,18.8 542,17.9C540.8,17.1 539.8,14.9 538.9,12.2C538.1,9.5 536.2,3.2 536.9,1.6Z"/>
<path class="l" d="M579.7,12.2C580.3,10.4 581.4,9.5 582.7,9.2C584.1,8.8 584.3,8.8 587.8,10.2C591.4,11.6 598.4,14.8 604.1,17.3C609.9,19.9 618.4,23.3 622.5,25.5C626.6,27.7 627.2,28 628.6,30.6C630,33.1 630.3,37.2 630.6,40.8C631,44.3 631.3,49.4 630.6,52C630,54.5 628.3,55.6 626.6,56.1C624.9,56.5 624.2,56.3 620.5,54.6C616.7,52.9 609.9,49 604.1,45.9C598.4,42.7 589.7,38.2 585.8,35.7C581.9,33.1 581.8,33.1 580.7,30.6C579.6,28 579.4,23.4 579.3,20.4C579.1,17.3 579.1,14.1 579.7,12.2Z"/>
<ellipse class="l" cx="573.2" cy="40.8" rx="4.4" ry="2.9" transform="rotate(-25 573.2 40.8)"/>
<ellipse class="l" cx="502.6" cy="26.5" rx="2" ry="3" transform="rotate(-10 502.6 26.5)"/>
<ellipse class="l" cx="531.4" cy="80.5" rx="2.1" ry="3" transform="rotate(-10 531.4 80.5)"/>
<ellipse class="l" cx="578.1" cy="72.8" rx="1.9" ry="2.6" transform="rotate(-10 578.1 72.8)"/>
<path class="l" d="M621.8,62.5C621.8,62.4 622,62.4 622.1,62.4C622.1,62.4 622.2,62.4 622.3,62.4C622.4,62.5 622.5,62.5 622.6,62.5C622.6,62.6 622.7,62.6 622.8,62.7C622.9,62.7 622.9,62.8 623,62.9C623.1,62.9 623.2,63 623.2,63.1C623.3,63.2 623.3,63.3 623.4,63.4C623.4,63.5 623.5,63.6 623.5,63.7C623.5,63.8 623.6,64 623.6,64.1C623.6,64.2 623.7,64.3 623.7,64.5C623.7,64.6 623.7,64.7 623.7,64.8C623.7,65 623.7,65.1 623.7,65.2C623.6,65.3 623.6,65.5 623.6,65.6C623.6,65.7 623.5,65.8 623.5,65.9C623.5,66.1 623.4,66.2 623.4,66.3C623.3,66.4 623.3,66.5 623.2,66.5C623.1,66.6 623.1,66.7 623,66.8C622.9,66.9 622.9,66.9 622.8,67C622.7,67 622.6,67.1 622.5,67.1C622.5,67.2 622.4,67.2 622.3,67.2C622.2,67.2 622.1,67.2 622,67.2C622,67.2 621.9,67.2 621.8,67.2C621.7,67.2 621.6,67.1 621.5,67.1" style="stroke-width:1.3"/>
<path class="l" d="M634.4,23.1C634.5,23.1 634.6,23.1 634.7,23.1C634.8,23.1 634.9,23.1 635,23.1C635,23.1 635.1,23.2 635.2,23.2C635.3,23.2 635.4,23.3 635.4,23.3C635.5,23.4 635.6,23.5 635.7,23.5C635.7,23.6 635.8,23.7 635.8,23.8C635.9,23.9 636,24 636,24.1C636.1,24.2 636.1,24.3 636.1,24.4C636.2,24.5 636.2,24.6 636.2,24.7C636.3,24.9 636.3,25 636.3,25.1C636.3,25.2 636.3,25.4 636.3,25.5C636.3,25.6 636.3,25.8 636.3,25.9C636.3,26 636.3,26.1 636.2,26.2C636.2,26.4 636.2,26.5 636.1,26.6C636.1,26.7 636.1,26.8 636,26.9C635.9,27 635.9,27.1 635.8,27.2C635.8,27.3 635.7,27.4 635.6,27.5C635.6,27.5 635.5,27.6 635.4,27.6C635.3,27.7 635.3,27.7 635.2,27.8C635.1,27.8 635,27.8 634.9,27.9C634.8,27.9 634.8,27.9 634.7,27.9C634.6,27.9 634.5,27.9 634.4,27.8C634.3,27.8 634.2,27.8 634.2,27.7" style="stroke-width:1.3"/>
<path class="l" d="M583.9,40.2C584,40.2 584.1,40.2 584.1,40.2C584.2,40.2 584.3,40.2 584.4,40.2C584.4,40.2 584.5,40.3 584.6,40.3C584.7,40.3 584.7,40.4 584.8,40.4C584.9,40.5 584.9,40.5 585,40.6C585,40.7 585.1,40.8 585.2,40.8C585.2,40.9 585.3,41 585.3,41.1C585.3,41.2 585.4,41.3 585.4,41.4C585.5,41.5 585.5,41.6 585.5,41.7C585.5,41.8 585.5,41.9 585.6,42.1C585.6,42.2 585.6,42.3 585.6,42.4C585.6,42.5 585.6,42.6 585.6,42.8C585.5,42.9 585.5,43 585.5,43.1C585.5,43.2 585.4,43.3 585.4,43.4C585.4,43.5 585.3,43.6 585.3,43.7C585.2,43.8 585.2,43.9 585.1,44C585.1,44.1 585,44.1 585,44.2C584.9,44.3 584.8,44.3 584.8,44.4C584.7,44.4 584.6,44.5 584.6,44.5C584.5,44.5 584.4,44.6 584.4,44.6C584.3,44.6 584.2,44.6 584.1,44.6C584.1,44.6 584,44.6 583.9,44.6C583.8,44.5 583.7,44.5 583.7,44.5" style="stroke-width:1.3"/>
<path class="ld" d="M560.2,83.8 L560.2,109.8"/>
</g>

<g id="tens">
<path class="l" d="M191,289.5C191.3,289.3 192.5,288.9 193.2,288.7C194,288.6 194.8,288.6 195.6,288.6C196.4,288.7 197.2,288.9 198,289.1C198.8,289.4 199.6,289.8 200.4,290.3C201.2,290.8 202,291.3 202.7,292C203.5,292.7 204.2,293.4 204.9,294.3C205.6,295.1 206.2,296 206.8,297C207.5,298 208,299.1 208.5,300.2C209.1,301.3 209.5,302.5 210,303.6C210.4,304.8 210.7,306.1 211,307.4C211.3,308.6 211.6,309.9 211.8,311.2C211.9,312.5 212,313.8 212.1,315.1C212.1,316.4 212.1,317.7 212,318.9C211.9,320.2 211.8,321.4 211.6,322.6C211.4,323.7 211.1,324.9 210.8,326C210.4,327 210,328.1 209.6,329C209.1,330 208.6,330.8 208.1,331.6C207.5,332.4 206.9,333.1 206.3,333.7C205.7,334.4 205,334.9 204.3,335.3C203.6,335.7 202.8,336 202.1,336.3C201.3,336.5 200.1,336.6 199.7,336.6"/>
<path class="l" d="M191,289.5 L176.4,292.3"/>
<path class="l" d="M199.7,336.6 L185.1,339.4"/>
<ellipse class="lw" cx="182.6" cy="315.4" rx="14.6" ry="24.2" transform="rotate(-9 182.6 315.4)"/>
<ellipse class="l" cx="182.9" cy="315.7" rx="12" ry="21.8" transform="rotate(-9 182.9 315.7)"/>
<ellipse class="l" cx="182.2" cy="316.1" rx="9.7" ry="16.8" transform="rotate(-9 182.2 316.1)"/>
<path class="l" d="M180.4,301.8C180.6,301.8 181.3,302 181.8,302.1C182.2,302.3 182.7,302.6 183.1,302.9C183.6,303.2 184,303.6 184.5,304C184.9,304.4 185.3,304.9 185.7,305.4C186.1,305.9 186.5,306.4 186.8,307C187.1,307.6 187.5,308.3 187.8,309C188.1,309.6 188.3,310.3 188.6,311.1C188.8,311.8 189,312.5 189.2,313.3C189.4,314 189.5,314.8 189.6,315.6C189.7,316.4 189.8,317.1 189.8,317.9C189.8,318.7 189.8,319.4 189.8,320.2C189.7,320.9 189.6,321.7 189.5,322.4C189.4,323.1 189.2,323.7 189,324.4C188.9,325 188.6,325.6 188.4,326.2C188.1,326.7 187.8,327.3 187.5,327.7C187.2,328.2 186.9,328.6 186.5,329C186.2,329.3 185.8,329.7 185.4,329.9C185,330.2 184.5,330.3 184.1,330.5C183.7,330.6 183.2,330.7 182.8,330.7C182.3,330.7 181.9,330.6 181.4,330.5C181,330.4 180.5,330.2 180,330C179.6,329.7 179.1,329.4 178.7,329.1C178.2,328.7 177.8,328.3 177.4,327.9C177,327.4 176.6,326.9 176.2,326.3C175.8,325.8 175.3,324.8 175.2,324.5"/>
<ellipse class="l" cx="179.9" cy="316.1" rx="6.9" ry="12.4" transform="rotate(-9 179.9 316.1)" style="stroke-width:1.5"/>
<path class="l" d="M177.1,309.9C178.1,308.5 180.7,307.4 181.9,307.8C183.2,308.1 184.3,310 184.7,311.9C185.2,313.9 185.3,317.5 184.7,319.6C184.1,321.7 182.5,324 181.2,324.4C180,324.9 178,323.8 177.1,322.4C176.2,321 175.7,318.2 175.7,316.1C175.7,314 176,311.2 177.1,309.9Z"/>
<path class="l" d="M179.4,310.3 L178.9,321.7" style="stroke-width:1.1"/>
<path class="l" d="M182.2,308.5 L182.8,314.7 L181.9,323.1" style="stroke-width:1.1"/>
<path class="l" d="M210,305 L213.2,304.4"/>
<path class="l" d="M211.1,309.4 L213.9,309.4"/>
<ellipse class="l" cx="213.5" cy="307.1" rx="1.8" ry="2.7"/>
<path class="ld" d="M153.5,319.3 L169,319.3"/>
<path class="d" d="M215.6,305.6 L241.7,298.8"/>
<path class="d" d="M241.7,298.8 L241.7,339.8"/>
<path class="d" d="M241.7,340.2 L274,331.8"/>
<path class="ld" d="M243.9,267.6 L276,267.6" style="stroke-width:1.35"/>
<path class="lw" d="M287.9,269.5 L291.3,267.8 L294.3,270.8 L293.9,273.8 L291.3,275.5 L288.3,273.4Z" style="stroke-width:1.3"/>
<ellipse class="lw" cx="284.6" cy="267.8" rx="4.5" ry="6.3" transform="rotate(20 284.6 267.8)" style="stroke-width:1.5"/>
<path class="lw" d="M275.9,267 L277.7,263.1 L281.1,261.2 L284.5,261.8 L282.8,266.1 L281.9,272.1 L279.8,273.4 L277.2,270.4Z" style="stroke-width:1.5"/>
<ellipse class="l" cx="285.2" cy="268.3" rx="2.3" ry="2.8" transform="rotate(20 285.2 268.3)" style="stroke-width:1.7"/>
<path class="l" d="M278.9,263.6 L278.5,271.3" style="stroke-width:1"/>
<path class="d" d="M295,274.4 L337.8,301.4"/>
<path class="l" d="M286.7,291.7 L297.1,287.8 L303.6,290.4 L295.8,294.3Z"/>
<path class="l" d="M286.7,291.7 L287.3,302.7 L295.1,305.9"/>
<path class="l" d="M295.8,294.3 L295.5,300.8"/>
<path class="l" d="M307.2,291.7C309.1,292.8 314.4,296.4 318.3,298.6C322.3,300.8 327.4,304.4 330.8,304.7C334.3,305 336.2,301.1 339.2,300.3C342.2,299.5 345.9,299.4 348.9,300C351.9,300.6 355.3,302.1 357.2,304.2C359.2,306.2 360.6,309.7 360.6,312.5C360.6,315.3 358.9,318.8 357.2,320.8C355.5,322.9 352.5,324.5 350.3,325C348.1,325.5 345.9,325.1 343.9,323.6C341.9,322.1 339.3,317.1 338.3,315.8"/>
<path class="l" d="M298.4,296.2C299.2,295.6 301.6,293.1 303.6,292.3C305.5,291.6 307.3,291.1 310,291.7C312.8,292.2 318.4,294.9 320,295.6"/>
<path class="l" d="M330.8,304.7 L338.3,315.8"/>
<path class="l" d="M326.7,309.7C327.8,309.3 331.1,308.1 333.6,306.9C336.2,305.8 339.4,303.9 341.9,302.8C344.5,301.6 347.7,300.5 348.9,300"/>
<path class="l" d="M302.6,310.5C302.5,310.6 302.2,311 302.1,311.2C301.9,311.4 301.7,311.5 301.5,311.7C301.3,311.8 301,311.9 300.8,312C300.6,312 300.3,312.1 300.1,312.1C299.9,312.1 299.6,312 299.4,312C299.1,311.9 298.9,311.8 298.6,311.7C298.4,311.5 298.1,311.4 297.9,311.2C297.7,311 297.4,310.8 297.2,310.5C297,310.3 296.8,310 296.5,309.7C296.3,309.4 296.1,309.1 296,308.7C295.8,308.4 295.6,308 295.4,307.7C295.3,307.3 295.1,306.9 295,306.5C294.9,306.1 294.8,305.7 294.7,305.3C294.6,304.9 294.6,304.5 294.5,304.1C294.5,303.7 294.4,303.2 294.4,302.8C294.4,302.4 294.4,302 294.4,301.6C294.5,301.3 294.5,300.9 294.6,300.5C294.7,300.2 294.8,299.8 294.9,299.5C295,299.2 295.1,298.9 295.2,298.6C295.4,298.4 295.5,298.1 295.7,297.9C295.9,297.7 296.1,297.5 296.3,297.3C296.5,297.1 296.7,297 296.9,296.9C297.1,296.8 297.3,296.8 297.6,296.7C297.8,296.7 298,296.7 298.3,296.7C298.5,296.8 298.8,296.8 299,296.9C299.3,297 299.6,297.3 299.8,297.3"/>
<path class="l" d="M302.3,306.2C302.3,306.3 302.2,306.6 302.2,306.7C302.1,306.9 302.1,307.1 302,307.2C301.9,307.4 301.9,307.5 301.8,307.6C301.7,307.8 301.6,307.9 301.5,308C301.4,308.1 301.3,308.2 301.2,308.3C301.1,308.3 300.9,308.4 300.8,308.4C300.7,308.5 300.6,308.5 300.4,308.5C300.3,308.5 300.2,308.5 300.1,308.5C299.9,308.5 299.8,308.4 299.7,308.4C299.5,308.3 299.4,308.2 299.3,308.2C299.2,308.1 299,308 298.9,307.9C298.8,307.7 298.7,307.6 298.6,307.5C298.5,307.3 298.4,307.2 298.3,307C298.2,306.9 298.1,306.7 298,306.5C297.9,306.3 297.8,306.1 297.8,306C297.7,305.8 297.7,305.6 297.6,305.4C297.6,305.2 297.5,305 297.5,304.8C297.5,304.6 297.5,304.3 297.5,304.1C297.5,303.9 297.5,303.7 297.5,303.5C297.5,303.3 297.5,303.2 297.6,303C297.6,302.8 297.6,302.6 297.7,302.4C297.7,302.3 297.8,302.1 297.9,302C298,301.8 298,301.7 298.1,301.6C298.2,301.4 298.3,301.3 298.4,301.2C298.5,301.1 298.6,301.1 298.7,301C298.9,300.9 299,300.9 299.1,300.8C299.2,300.8 299.3,300.8 299.5,300.8C299.6,300.8 299.7,300.8 299.9,300.8C300,300.9 300.1,300.9 300.2,301C300.4,301 300.5,301.1 300.6,301.2C300.8,301.3 300.9,301.4 301,301.5C301.1,301.6 301.2,301.8 301.3,301.9C301.4,302 301.6,302.3 301.6,302.4"/>
<path class="l" d="M297.1,314C297.9,313.8 299.7,313.7 302.3,313.1C304.9,312.4 309.7,311 312.6,310.1C315.6,309.2 318.8,308.3 320,307.9"/>
<path class="l" d="M318.3,306.1C319.7,306.7 323.9,308 326.7,309.7C329.4,311.5 332.5,314.4 335,316.7C337.5,319 340.8,322.5 341.9,323.6"/>
<path class="l" d="M357.6,317.7C357.5,317.8 357.4,318.1 357.2,318.3C357.1,318.5 357,318.7 356.8,318.9C356.7,319 356.6,319.2 356.4,319.3C356.2,319.5 356.1,319.6 355.9,319.7C355.7,319.8 355.5,319.9 355.3,319.9C355.2,320 355,320 354.8,320.1C354.6,320.1 354.4,320.1 354.2,320.1C354,320.1 353.8,320 353.7,320C353.5,319.9 353.3,319.8 353.1,319.7C352.9,319.6 352.8,319.5 352.6,319.4C352.4,319.3 352.3,319.1 352.1,319C352,318.8 351.8,318.6 351.7,318.4C351.6,318.2 351.5,318 351.4,317.8C351.3,317.6 351.2,317.4 351.1,317.1C351.1,316.9 351,316.7 350.9,316.4C350.9,316.2 350.9,315.9 350.9,315.7C350.8,315.4 350.8,315.1 350.9,314.9C350.9,314.6 350.9,314.4 350.9,314.1C351,313.9 351.1,313.7 351.1,313.4C351.2,313.2 351.3,313 351.4,312.7C351.5,312.5 351.6,312.3 351.7,312.1C351.8,311.9 352,311.8 352.1,311.6C352.3,311.4 352.4,311.3 352.6,311.2C352.8,311 352.9,310.9 353.1,310.8C353.3,310.7 353.5,310.7 353.7,310.6C353.8,310.5 354,310.5 354.2,310.5C354.4,310.5 354.6,310.5 354.8,310.5C355,310.5 355.2,310.6 355.3,310.6C355.5,310.7 355.7,310.8 355.9,310.9C356.1,311 356.2,311.1 356.4,311.2C356.6,311.4 356.7,311.5 356.8,311.7C357,311.9 357.1,312.1 357.2,312.3C357.4,312.4 357.5,312.8 357.6,312.9"/>
<ellipse class="lw" cx="257" cy="313.3" rx="4.4" ry="8.6" transform="rotate(-12 257 313.3)"/>
<ellipse class="l" cx="256.6" cy="315" rx="2.3" ry="3.9" transform="rotate(-10 256.6 315)"/>
<path class="l" d="M255.6,304.4C256.4,304.1 258.3,303.1 260.8,302.7C263.2,302.3 267.5,301.3 270.5,302C273.5,302.8 276,305.5 278.9,307.2C281.8,309 285.4,311.1 288,312.4C290.6,313.7 292.7,314.7 294.5,315C296.2,315.3 297.7,314.5 298.4,314.4"/>
<path class="l" d="M262.7,304 L291.2,320.5"/>
<path class="l" d="M256.2,321.8 L270.1,330.8"/>
<path class="lw" d="M270.5,326.7C270.9,325.1 272.3,324.2 273.7,323.5C275.1,322.7 277.4,321.8 278.9,322.2C280.4,322.5 282,323.8 282.8,325.4C283.6,327 283.9,329.9 283.5,331.9C283,333.8 281.6,336.2 280.2,337.1C278.8,337.9 276.5,337.7 275,337.1C273.5,336.4 271.9,334.9 271.1,333.2C270.4,331.4 270,328.3 270.5,326.7Z"/>
<ellipse class="l" cx="274.4" cy="329.9" rx="2" ry="3.2" transform="rotate(-10 274.4 329.9)" style="stroke-width:1"/>
<path class="l" d="M277.6,337.3 L282.2,344.9"/>
<path class="l" d="M280.5,335.8 L283.1,341.2"/>
<path class="l" d="M283.6,331.1C284.8,329.9 287.8,325.3 290.6,323.6C293.3,321.9 297.3,320.6 300.3,320.8C303.3,321.1 306.3,322.9 308.6,325C310.9,327.1 313,330.1 314.2,333.3C315.3,336.6 316.2,342.1 315.6,344.4C314.9,346.8 311.2,344.4 310,347.2C308.8,350 307.7,356.9 308.6,361.1C309.5,365.3 313.5,369 315.6,372.2C317.6,375.5 320.2,379.2 321.1,380.6"/>
<path class="l" d="M283.6,331.1C283.4,332.9 281.8,337.6 282.2,341.7C282.7,345.7 284.3,350 286.4,355.6C288.5,361.1 292.3,369.7 294.7,375C297.2,380.3 300,385.4 301.1,387.5"/>
<path class="l" d="M308.6,325C311.6,324.4 321.1,321.9 326.7,321.7C332.2,321.4 339.4,323.3 341.9,323.6"/>
<path class="l" d="M315.6,327.8C317.9,327.5 325.6,326.3 329.4,326.4C333.2,326.5 336.9,328 338.3,328.3"/>
<ellipse class="l" cx="293.3" cy="343.1" rx="1.2" ry="2.4" transform="rotate(-20 293.3 343.1)" style="stroke-width:1.3"/>
<ellipse class="l" cx="342.2" cy="334.4" rx="4.5" ry="4.8"/>
<ellipse class="l" cx="342.2" cy="334.4" rx="2.2" ry="2.6" style="stroke-width:1.5"/>
<path class="l" d="M351.1,326.1C351.6,327.2 353.3,330.3 353.9,332.6C354.5,334.9 355.1,337.8 354.8,340C354.5,342.2 353.1,344 352,345.6C351,347.1 349.3,347.4 348.3,349.3C347.4,351.1 346.9,353.6 346.5,356.7C346,359.8 346,364.8 345.6,367.8C345.1,370.7 344.8,372.7 343.7,374.3C342.6,375.8 340.8,376.7 339.1,377C337.4,377.3 335.1,376.9 333.5,376.1C332,375.3 330.6,374.1 329.8,372.4C329,370.7 328.7,367.6 328.9,365.9C329,364.2 329.7,363.3 330.7,362.2C331.8,361.1 334.3,361 335.4,359.4C336.5,357.9 336.6,355.3 337.2,353C337.8,350.6 338.6,347.4 339.1,345.6C339.5,343.7 339.8,342.5 340,341.9"/>
<path class="l" d="M342.8,345.6C342.4,347.1 340.9,351.7 340.4,354.8C339.8,357.9 339.6,361.3 339.6,364.1C339.6,366.9 340.2,370.2 340.4,371.5"/>
<ellipse class="l" cx="332.6" cy="369.6" rx="1.5" ry="2.6" transform="rotate(-10 332.6 369.6)" style="stroke-width:1.3"/>
<path class="l" d="M308.5,327C308.8,328 309.4,331 310.4,332.6C311.3,334.1 312.8,335.1 314.1,336.3C315.3,337.5 317,337.8 317.8,340C318.5,342.2 318.4,346.9 318.7,349.3C319,351.6 320.6,352.5 319.6,353.9C318.7,355.3 314.4,355.9 313.1,357.6C311.9,359.3 311.9,361.5 312.2,364.1C312.5,366.7 314.1,370.9 315,373.3C315.9,375.8 317.3,378 317.8,378.9"/>
<path class="l" d="M324.3,340.9C324.4,342 324.9,345.1 325.2,347.4C325.5,349.7 326.9,353.4 326.1,354.8C325.3,356.2 321.5,355.6 320.6,355.7"/>
<path class="l" d="M328,340C328.3,341.2 329.5,344.6 329.8,347.4C330.1,350.2 330.3,354.4 329.8,356.7C329.4,359 328,360.2 327,361.3C326.1,362.4 325,362.1 324.3,363.1C323.5,364.2 322.6,366.4 322.4,367.8C322.3,369.2 323.2,370.9 323.3,371.5"/>
<path class="l" d="M320.6,323.3 L332.6,325.2 L343.7,326.1"/>
<path class="l" d="M317.8,326.5 L340,328.3"/>
<path class="d" d="M235.5,362.3 L340.4,334.9"/>
<path class="l" d="M328,360C328.2,361.9 327.9,368.5 329.1,371.2C330.2,373.9 333,375.8 335.2,376.3C337.4,376.8 340.7,377 342.3,374.3C343.8,371.5 344.2,362.4 344.5,360"/>
<ellipse class="l" cx="333.5" cy="369.2" rx="1.4" ry="2.6" transform="rotate(-10 333.5 369.2)" style="stroke-width:1.3"/>
<path class="l" d="M313.8,360C313.9,361.7 313.8,367.2 314.8,370.2C315.8,373.2 319,376.6 319.9,377.9"/>
<path class="l" d="M320.9,430.3C321.1,431.4 321.1,435.8 321.9,437.4C322.8,439 324.5,439.7 326,439.8C327.5,440 329.9,440.2 331.1,438.4C332.3,436.6 333,431.7 333.1,429.2C333.3,426.8 332.3,424.5 332.1,423.5"/>
<ellipse class="l" cx="326.6" cy="434.5" rx="1.5" ry="2.4" transform="rotate(-10 326.6 434.5)" style="stroke-width:1.3"/>
<path class="l" d="M313.4,380.7C313.8,380.5 314.9,379.8 315.7,379.6C316.5,379.3 317.3,379.1 318.1,379.1C318.9,379 319.8,379.1 320.6,379.2C321.5,379.4 322.4,379.6 323.2,380C324,380.4 324.9,380.9 325.7,381.4C326.5,382 327.3,382.7 328.1,383.5C328.9,384.2 329.6,385.1 330.3,386C331,386.9 331.7,388 332.3,389C332.9,390.1 333.5,391.3 334,392.4C334.5,393.6 335,394.9 335.4,396.2C335.8,397.4 336.1,398.8 336.4,400.1C336.6,401.4 336.8,402.7 337,404.1C337.1,405.4 337.2,406.8 337.2,408.1C337.2,409.4 337.1,410.7 337,412C336.8,413.2 336.6,414.5 336.4,415.7C336.1,416.8 335.7,418 335.3,419C334.9,420.1 334.5,421.1 334,422C333.5,422.9 332.9,423.7 332.3,424.5C331.6,425.2 331,425.9 330.3,426.4C329.6,426.9 328.8,427.4 328.1,427.7C327.3,428.1 326.5,428.3 325.7,428.5C324.8,428.6 323.6,428.5 323.2,428.5"/>
<path class="l" d="M313.4,380.7 L298.6,382.1"/>
<path class="l" d="M323.2,428.5 L308.4,429.9"/>
<ellipse class="lw" cx="306.7" cy="405.2" rx="15.3" ry="25" transform="rotate(-10 306.7 405.2)"/>
<path class="l" d="M310.5,382.3C310.8,382.4 312,382.6 312.8,382.9C313.6,383.2 314.3,383.6 315.1,384.1C315.8,384.6 316.6,385.2 317.3,386C318,386.7 318.7,387.5 319.4,388.3C320,389.2 320.6,390.2 321.2,391.2C321.7,392.2 322.5,393.9 322.7,394.5"/>
<path class="l" d="M324.3,417.2C324.1,417.6 323.8,418.7 323.5,419.4C323.2,420.2 322.8,420.8 322.5,421.5C322.1,422.1 321.7,422.7 321.3,423.2C320.9,423.7 320.4,424.2 320,424.6C319.5,425 319,425.4 318.5,425.7C318,426 317.2,426.3 316.9,426.4"/>
<path class="l" d="M316.2,409.4C316.2,409.8 316.1,411 316,411.8C315.9,412.6 315.8,413.4 315.6,414.1C315.5,414.9 315.2,415.6 315,416.2C314.8,416.9 314.5,417.5 314.2,418C313.9,418.6 313.5,419.1 313.2,419.5C312.8,420 312.4,420.4 312,420.7C311.6,421 311.1,421.3 310.7,421.4C310.2,421.6 309.7,421.7 309.3,421.8C308.8,421.8 308.3,421.8 307.8,421.7C307.3,421.6 306.8,421.5 306.3,421.3C305.8,421 305.3,420.8 304.8,420.4C304.3,420.1 303.8,419.6 303.4,419.2C302.9,418.7 302.4,418.2 302,417.6C301.6,417 301.2,416.4 300.8,415.7C300.4,415 300,414.3 299.7,413.5C299.3,412.8 299,412 298.7,411.2C298.5,410.3 298.2,409.5 298,408.6C297.8,407.8 297.6,406.9 297.5,406.1C297.4,405.2 297.3,404.3 297.2,403.4C297.2,402.6 297.2,401.7 297.2,400.9C297.2,400 297.3,399.2 297.4,398.4C297.5,397.6 297.6,396.8 297.8,396.1C298,395.4 298.2,394.7 298.4,394C298.7,393.4 299,392.8 299.3,392.2C299.6,391.7 300,391.2 300.3,390.8C300.7,390.3 301.1,390 301.5,389.6C301.9,389.3 302.4,389.1 302.8,388.9C303.3,388.7 303.8,388.6 304.2,388.6C304.7,388.6 305.2,388.6 305.7,388.7C306.2,388.8 306.7,388.9 307.2,389.2C307.7,389.4 308.5,389.9 308.7,390.1"/>
<path class="l" d="M306.6,419.1C306.4,419.1 305.8,418.9 305.4,418.8C305,418.6 304.5,418.3 304.1,418.1C303.7,417.8 303.3,417.4 303,417C302.6,416.6 302.2,416.2 301.9,415.7C301.5,415.2 301.2,414.7 300.8,414.1C300.5,413.5 300.2,412.9 300,412.3C299.7,411.7 299.4,411 299.2,410.3C299,409.6 298.8,408.9 298.6,408.2C298.5,407.5 298.3,406.8 298.3,406C298.2,405.3 298.1,404.6 298.1,403.9C298,403.1 298,402.4 298.1,401.7C298.1,401 298.2,400.4 298.3,399.7C298.4,399.1 298.5,398.4 298.7,397.9C298.8,397.3 299,396.7 299.2,396.2C299.5,395.7 299.7,395.2 300,394.8C300.3,394.4 300.7,393.9 300.9,393.7"/>
<path class="l" d="M302.6,401.7C303.5,400.7 306.4,400.2 307.7,400.7C309,401.2 310.1,403.3 310.3,404.8C310.6,406.3 310,408.9 309.1,409.9C308.1,410.9 305.8,411.4 304.6,410.9C303.4,410.4 302.3,408.4 302,406.8C301.6,405.3 301.6,402.8 302.6,401.7Z" style="stroke-width:1.5"/>
<path class="ld" d="M312.4,430.4 L312.4,463.3"/>
<path class="lw" d="M203.8,373.8 L212.3,371.7 L213.2,370.4 L212.6,368.2 L211.2,367.4 L202.7,369.6Z" style="stroke-width:1.3"/>
<path class="l" d="M206.9,373.1 L204.3,369.2" style="stroke-width:1.3"/>
<path class="l" d="M209.2,372.5 L206.5,368.6" style="stroke-width:1.3"/>
<path class="l" d="M211.4,371.9 L208.8,368" style="stroke-width:1.3"/>
<path class="lw" d="M204,373.9 L200.7,377.2 L196.3,375.9 L195.2,371.3 L198.5,368 L202.9,369.3Z" style="stroke-width:1.5;stroke-linejoin:round"/>
<path class="l" d="M198,372.8 L200.8,372.4" style="stroke-width:1.2"/>
<path class="ld" d="M199.6,377.5 L199.6,391"/>
<path class="d" d="M214,368.3 L235,362.6"/>
</g>

<g id="box2">
<path class="l" d="M413.1,309.7C413.3,308.8 413.1,305.8 414.4,304.2C415.8,302.5 418.6,301.1 421.4,300C424.2,298.9 428.2,297.8 431.1,297.8C434,297.8 435.9,300.6 438.9,300C441.9,299.4 445.6,296.2 449.2,294.4C452.7,292.7 458.2,290 460.3,289.7C462.4,289.5 459.6,292.7 461.7,293.1C463.8,293.4 469.1,292.6 472.8,291.7C476.5,290.7 480.9,289 483.9,287.5C486.9,286 488.5,283.7 490.8,282.8C493.1,281.9 495.7,281.4 497.8,281.9C499.9,282.5 501.9,284.5 503.3,286.1C504.7,287.7 505.6,290.7 506.1,291.7"/>
<path class="l" d="M500.5,282.5C501.1,283.2 502.7,285.8 504,286.8C505.2,287.8 506.9,288.5 508.2,288.5C509.6,288.5 511.5,287.1 512.2,286.8"/>
<path class="l" d="M531.7,323.3C532,325.5 533.9,331.7 533.9,336.1C533.9,340.6 533,345.9 531.7,350C530.4,354.1 529,356.9 526.1,360.6C523.2,364.3 518.2,369.6 514.4,372.2C510.6,374.9 508,375.2 503.3,376.4C498.7,377.5 491.6,378.2 486.7,379.2C481.7,380.1 476.4,380.7 473.6,381.9C470.8,383.2 472.7,386 470,386.7C467.3,387.4 459.6,386.2 457.5,386.1"/>
<path class="l" d="M447.8,377.2C446.6,375.7 443.1,371 440.8,368.1C438.5,365.1 435,361.1 433.9,359.7"/>
<path class="l" d="M422.8,347.8C421.4,348 417.2,349.5 414.4,349.2C411.7,348.8 408,347.5 406.1,345.8C404.3,344.1 403.1,341 403.3,338.9C403.6,336.8 405.4,334.6 407.5,333.3C409.6,332 412.6,331.3 415.8,331.1C419.1,330.9 424.6,331.6 426.9,331.9C429.3,332.3 429,334.7 429.7,333.3C430.4,331.9 432,325.9 431.1,323.6C430.2,321.3 426.7,320.6 424.2,319.4C421.6,318.3 417.7,318.3 415.8,316.7C414,315 413.5,310.9 413.1,309.7"/>
<ellipse class="lw" cx="427.8" cy="352.8" rx="5.4" ry="5.6"/>
<ellipse class="lw" cx="444.4" cy="298.6" rx="5" ry="5"/>
<ellipse class="l" cx="444.4" cy="298.6" rx="2.4" ry="2.4" style="stroke-width:1.4"/>
<ellipse class="lw" cx="451.9" cy="380" rx="5" ry="5"/>
<ellipse class="l" cx="451.9" cy="380" rx="2.4" ry="2.4" style="stroke-width:1.4"/>
<ellipse class="l" cx="421.4" cy="308.9" rx="2.8" ry="2.8"/>
<ellipse class="l" cx="412.2" cy="340.3" rx="2.8" ry="2.8"/>
<ellipse class="l" cx="476.1" cy="338.3" rx="26.4" ry="26.4"/>
<ellipse class="l" cx="476.1" cy="338.3" rx="13.3" ry="13.3"/>
<ellipse class="l" cx="476.1" cy="318.1" rx="2.8" ry="2.8"/>
<ellipse class="l" cx="456.1" cy="338.9" rx="2.8" ry="2.8"/>
<ellipse class="l" cx="496.4" cy="338.3" rx="2.8" ry="2.8"/>
<ellipse class="l" cx="475.6" cy="358.9" rx="2.8" ry="2.8"/>
<ellipse class="l" cx="495.6" cy="286.1" rx="2.2" ry="2.2"/>
<ellipse class="l" cx="518.1" cy="323.6" rx="2.2" ry="2.2"/>
<ellipse class="l" cx="520" cy="348.6" rx="2.2" ry="2.2"/>
<path class="l" d="M511.7,282.9C511.7,282.5 511.5,281 511.8,280.5C512.2,279.9 513.3,279.6 513.9,279.6C514.5,279.7 515.3,280.6 515.6,280.8"/>
<path class="l" d="M511.7,282.9 L531,325.6"/>
<path class="l" d="M515.6,280.8 L534.8,323.1"/>
<path class="l" d="M513.7,282.9 L532.5,323.9" style="stroke-width:0.9"/>
<path class="l" d="M521.1,286.8 L552.7,281.7 L553.9,277 L557.9,277.6 L562.1,276 L571.6,276.5 L573.8,280 L573.6,315 L570.7,320.2 L565.6,323.6 L564.7,327.9 L560.4,330.4 L556.2,328.7 L553.6,323.6 L534.8,323.1"/>
<ellipse class="l" cx="566.4" cy="282.5" rx="2.3" ry="2.3"/>
<ellipse class="l" cx="559.6" cy="324.8" rx="2.3" ry="2.3"/>
<circle class="lw" cx="434.7" cy="275.6" r="10.2" style="stroke-width:1.15;stroke:#111"/>
<path d="M431.5,272.4 L435.4,269 V283" fill="none" stroke="#000" stroke-width="1.7" stroke-linejoin="miter"/>
<circle class="lw" cx="495" cy="264.4" r="10.2" style="stroke-width:1.15;stroke:#111"/>
<path d="M491.8,261.2 L495.7,257.8 V271.8" fill="none" stroke="#000" stroke-width="1.7" stroke-linejoin="miter"/>
<circle class="lw" cx="503.9" cy="306.9" r="10.2" style="stroke-width:1.15;stroke:#111"/>
<path d="M500.7,303.7 L504.6,300.3 V314.3" fill="none" stroke="#000" stroke-width="1.7" stroke-linejoin="miter"/>
<circle class="lw" cx="521.4" cy="377.2" r="10.2" style="stroke-width:1.15;stroke:#111"/>
<path d="M518.2,374 L522.1,370.6 V384.6" fill="none" stroke="#000" stroke-width="1.7" stroke-linejoin="miter"/>
<circle class="lw" cx="427.8" cy="380" r="10.2" style="stroke-width:1.15;stroke:#111"/>
<text class="s" x="427.8" y="387.4" font-size="20.5" text-anchor="middle" textLength="10" lengthAdjust="spacingAndGlyphs">3</text>
<circle class="lw" cx="591.4" cy="281.1" r="10.2" style="stroke-width:1.15;stroke:#111"/>
<text class="s" x="591.4" y="288.5" font-size="20.5" text-anchor="middle" textLength="10" lengthAdjust="spacingAndGlyphs">2</text>
<circle class="lw" cx="591.4" cy="325" r="10.2" style="stroke-width:1.15;stroke:#111"/>
<text class="s" x="591.4" y="332.4" font-size="20.5" text-anchor="middle" textLength="10" lengthAdjust="spacingAndGlyphs">3</text>
<circle class="lw" cx="412.4" cy="433.9" r="10.2" style="stroke-width:1.15;stroke:#111"/>
<path d="M409.2,430.7 L413.1,427.3 V441.3" fill="none" stroke="#000" stroke-width="1.7" stroke-linejoin="miter"/>
<circle class="lw" cx="410.4" cy="475.4" r="10.2" style="stroke-width:1.15;stroke:#111"/>
<text class="s" x="410.4" y="482.8" font-size="20.5" text-anchor="middle" textLength="10" lengthAdjust="spacingAndGlyphs">2</text>
<circle class="lw" cx="410.4" cy="519.6" r="10.2" style="stroke-width:1.15;stroke:#111"/>
<text class="s" x="410.4" y="527" font-size="20.5" text-anchor="middle" textLength="10" lengthAdjust="spacingAndGlyphs">3</text>
<path class="l" d="M445.1,430.3C446.5,429.8 450.3,428.1 451.4,429.7C452.4,431.3 452.4,438.5 451.4,440.1C450.3,441.7 446.5,440 445.1,439.5C443.7,439 443.3,438.2 442.9,437.1C442.5,436 442.5,433.8 442.9,432.7C443.3,431.6 443.7,430.8 445.1,430.3Z" style="stroke-width:1.4"/>
<path class="l" d="M451.4,429.5C451.7,429.3 452.8,428.2 453.4,428.5C454,428.8 454.9,430.3 455.3,431.4C455.7,432.5 455.7,433.7 455.7,434.9C455.7,436.1 455.7,437.3 455.3,438.4C454.9,439.5 454,441 453.4,441.3C452.8,441.6 451.7,440.5 451.4,440.3" style="stroke-width:1.4"/>
<path class="l" d="M446.1,432.7 L446.1,437.1" style="stroke-width:1"/>
<path class="l" d="M447.9,434.9 L450.5,434.9" style="stroke-width:0.9"/>
<path class="l" d="M455.5,432.9 L484,432.9 L486,434.9 L484,436.9 L455.5,436.9" style="stroke-width:1.2"/>
<path class="l" d="M467,432.9 L467,436.9" style="stroke-width:1.1"/>
<path class="l" d="M469.4,432.9 L469.4,436.9" style="stroke-width:1.1"/>
<path class="l" d="M471.8,432.9 L471.8,436.9" style="stroke-width:1.1"/>
<path class="l" d="M474.2,432.9 L474.2,436.9" style="stroke-width:1.1"/>
<path class="l" d="M476.6,432.9 L476.6,436.9" style="stroke-width:1.1"/>
<path class="l" d="M479,432.9 L479,436.9" style="stroke-width:1.1"/>
<path class="l" d="M481.4,432.9 L481.4,436.9" style="stroke-width:1.1"/>
<path class="l" d="M486,434.9 L495.8,434.9" style="stroke-width:0.9"/>
<path class="l" d="M445.1,469.9C446.5,469.4 450.3,467.7 451.4,469.3C452.4,470.9 452.4,478.1 451.4,479.7C450.3,481.3 446.5,479.6 445.1,479.1C443.7,478.6 443.3,477.8 442.9,476.7C442.5,475.6 442.5,473.4 442.9,472.3C443.3,471.2 443.7,470.4 445.1,469.9Z" style="stroke-width:1.4"/>
<path class="l" d="M451.4,469.1C451.7,468.9 452.8,467.8 453.4,468.1C454,468.4 454.9,469.9 455.3,471C455.7,472.1 455.7,473.3 455.7,474.5C455.7,475.7 455.7,476.9 455.3,478C454.9,479.1 454,480.6 453.4,480.9C452.8,481.2 451.7,480.1 451.4,479.9" style="stroke-width:1.4"/>
<path class="l" d="M446.1,472.3 L446.1,476.7" style="stroke-width:1"/>
<path class="l" d="M447.9,474.5 L450.5,474.5" style="stroke-width:0.9"/>
<path class="l" d="M455.5,472.5 L475,472.5 L477,474.5 L475,476.5 L455.5,476.5" style="stroke-width:1.2"/>
<path class="l" d="M460,472.5 L460,476.5" style="stroke-width:1.1"/>
<path class="l" d="M462.4,472.5 L462.4,476.5" style="stroke-width:1.1"/>
<path class="l" d="M464.8,472.5 L464.8,476.5" style="stroke-width:1.1"/>
<path class="l" d="M467.2,472.5 L467.2,476.5" style="stroke-width:1.1"/>
<path class="l" d="M469.6,472.5 L469.6,476.5" style="stroke-width:1.1"/>
<path class="l" d="M472,472.5 L472,476.5" style="stroke-width:1.1"/>
<path class="l" d="M477,474.5 L498.3,474.5" style="stroke-width:0.9"/>
<path class="l" d="M443.8,515.3C445.1,514.8 448.6,513 449.6,514.7C450.6,516.4 450.6,523.8 449.6,525.5C448.6,527.2 445.1,525.4 443.8,524.9C442.5,524.4 442,523.7 441.6,522.5C441.2,521.3 441.2,518.9 441.6,517.7C442,516.5 442.5,515.8 443.8,515.3Z" style="stroke-width:1.4"/>
<path class="l" d="M449.6,514.5C449.9,514.3 450.9,513 451.6,513.3C452.3,513.6 453.2,515.4 453.6,516.5C454,517.6 454.2,518.9 454.2,520.1C454.2,521.3 454,522.6 453.6,523.7C453.2,524.8 452.3,526.6 451.6,526.9C450.9,527.2 449.9,525.9 449.6,525.7" style="stroke-width:1.4"/>
<rect x="441.0" y="516.3" width="4.2" height="7.6" rx="1.2"/>
<path class="l" d="M447.2,516.5 L447.2,523.7" style="stroke-width:0.9"/>
<path class="l" d="M454.3,520.6 L470,520.6" style="stroke-width:1"/>
<path class="l" d="M470,520.6 L496.5,520.6" style="stroke-width:1.3;stroke-dasharray:1.6 1"/>
<use href="#kome" x="505.5" y="427.5"/><text class="k" x="512.7" y="432.5" font-size="12.6" textLength="5.8" lengthAdjust="spacingAndGlyphs">2</text>
<text class="t" x="521.1" y="432.1" font-size="17.9" textLength="42.5" lengthAdjust="spacingAndGlyphs">90119</text>
<rect x="565.8" y="426.3" width="6.2" height="1.9"/>
<text class="t" x="574.0" y="432.1" font-size="17.9" textLength="42.5" lengthAdjust="spacingAndGlyphs">06751</text>
<text class="p" x="618.1" y="431.70000000000005" font-size="16" textLength="6.2" lengthAdjust="spacingAndGlyphs">(</text>
<text class="t" x="625.7" y="432.1" font-size="17.9" textLength="8" lengthAdjust="spacingAndGlyphs">4</text>
<text class="p" x="634.7" y="431.70000000000005" font-size="16" textLength="6.2" lengthAdjust="spacingAndGlyphs">)</text>
<use href="#kome" x="505.5" y="442.7"/><text class="k" x="512.7" y="447.7" font-size="12.6" textLength="5.8" lengthAdjust="spacingAndGlyphs">3</text>
<text class="t" x="521.1" y="447.3" font-size="17.9" textLength="42.5" lengthAdjust="spacingAndGlyphs">90119</text>
<rect x="565.8" y="441.5" width="6.2" height="1.9"/>
<text class="t" x="574.0" y="447.3" font-size="17.9" textLength="42.5" lengthAdjust="spacingAndGlyphs">T0060</text>
<text class="p" x="618.1" y="446.90000000000003" font-size="16" textLength="6.2" lengthAdjust="spacingAndGlyphs">(</text>
<text class="t" x="625.7" y="447.3" font-size="17.9" textLength="8" lengthAdjust="spacingAndGlyphs">4</text>
<text class="p" x="634.7" y="446.90000000000003" font-size="16" textLength="6.2" lengthAdjust="spacingAndGlyphs">)</text>
<use href="#kome" x="505.5" y="467.5"/><text class="k" x="512.7" y="472.5" font-size="12.6" textLength="5.8" lengthAdjust="spacingAndGlyphs">2</text>
<text class="t" x="521.1" y="472.1" font-size="17.9" textLength="42.5" lengthAdjust="spacingAndGlyphs">90119</text>
<rect x="565.8" y="466.3" width="6.2" height="1.9"/>
<text class="t" x="574.0" y="472.1" font-size="17.9" textLength="42.5" lengthAdjust="spacingAndGlyphs">06749</text>
<use href="#kome" x="505.5" y="481.9"/><text class="k" x="512.7" y="486.9" font-size="12.6" textLength="5.8" lengthAdjust="spacingAndGlyphs">3</text>
<text class="t" x="521.1" y="486.5" font-size="17.9" textLength="42.5" lengthAdjust="spacingAndGlyphs">90119</text>
<rect x="565.8" y="480.7" width="6.2" height="1.9"/>
<text class="t" x="574.0" y="486.5" font-size="17.9" textLength="42.5" lengthAdjust="spacingAndGlyphs">T0058</text>
<use href="#kome" x="505.5" y="507.69999999999993"/><text class="k" x="512.7" y="512.6999999999999" font-size="12.6" textLength="5.8" lengthAdjust="spacingAndGlyphs">4</text>
<text class="t" x="521.1" y="512.3" font-size="17.9" textLength="42.5" lengthAdjust="spacingAndGlyphs">90179</text>
<rect x="565.8" y="506.5" width="6.2" height="1.9"/>
<text class="t" x="574.0" y="512.3" font-size="17.9" textLength="42.5" lengthAdjust="spacingAndGlyphs">06298</text>
<text class="p" x="618.1" y="511.9" font-size="16" textLength="6.2" lengthAdjust="spacingAndGlyphs">(</text>
<text class="t" x="625.7" y="512.3" font-size="17.9" textLength="8" lengthAdjust="spacingAndGlyphs">2</text>
<text class="p" x="634.7" y="511.9" font-size="16" textLength="6.2" lengthAdjust="spacingAndGlyphs">)</text>
<use href="#kome" x="505.5" y="521.4"/><text class="k" x="512.7" y="526.4" font-size="12.6" textLength="5.8" lengthAdjust="spacingAndGlyphs">5</text>
<text class="t" x="521.1" y="526" font-size="17.9" textLength="42.5" lengthAdjust="spacingAndGlyphs">90182</text>
<rect x="565.8" y="520.2" width="6.2" height="1.9"/>
<text class="t" x="574.0" y="526" font-size="17.9" textLength="42.5" lengthAdjust="spacingAndGlyphs">T0007</text>
<text class="p" x="618.1" y="525.6" font-size="16" textLength="6.2" lengthAdjust="spacingAndGlyphs">(</text>
<text class="t" x="625.7" y="526" font-size="17.9" textLength="8" lengthAdjust="spacingAndGlyphs">2</text>
<text class="p" x="634.7" y="525.6" font-size="16" textLength="6.2" lengthAdjust="spacingAndGlyphs">)</text>
<use href="#kome" x="505.5" y="538.0"/><text class="k" x="512.7" y="543.0" font-size="12.6" textLength="5.8" lengthAdjust="spacingAndGlyphs">6</text>
<text class="t" x="521.1" y="542.6" font-size="17.9" textLength="42.5" lengthAdjust="spacingAndGlyphs">94151</text>
<rect x="565.8" y="536.8" width="6.2" height="1.9"/>
<text class="t" x="574.0" y="542.6" font-size="17.9" textLength="42.5" lengthAdjust="spacingAndGlyphs">80600</text>
<text class="p" x="618.1" y="542.2" font-size="16" textLength="6.2" lengthAdjust="spacingAndGlyphs">(</text>
<text class="t" x="625.7" y="542.6" font-size="17.9" textLength="8" lengthAdjust="spacingAndGlyphs">2</text>
<text class="p" x="634.7" y="542.2" font-size="16" textLength="6.2" lengthAdjust="spacingAndGlyphs">)</text>
</g>

<g id="misc">
<path class="lw" d="M270.8,207.9 L282.3,205.3 L283.2,203.9 L282.7,201.7 L281.3,200.8 L269.8,203.5Z" style="stroke-width:1.3"/>
<path class="l" d="M274,207.2 L271.4,203.1" style="stroke-width:1.3"/>
<path class="l" d="M276.5,206.6 L273.9,202.5" style="stroke-width:1.3"/>
<path class="l" d="M278.9,206.1 L276.3,202" style="stroke-width:1.3"/>
<path class="l" d="M281.3,205.5 L278.7,201.4" style="stroke-width:1.3"/>
<path class="lw" d="M271.1,208.3 L267.2,212 L262.1,210.4 L260.9,205.1 L264.8,201.4 L269.9,203Z" style="stroke-width:1.5;stroke-linejoin:round"/>
<path class="l" d="M264.4,206.9 L267.2,206.5" style="stroke-width:1.2"/>
<path class="ld" d="M266,212.3 L266,226.3"/>
</g>

<!-- LABELS -->
<g id="labels">
<text class="t" x="60.4" y="209.8" font-size="17.9" textLength="42.5" lengthAdjust="spacingAndGlyphs">91673</text>
<rect x="105.1" y="204.0" width="6.2" height="1.9"/>
<text class="t" x="113.3" y="209.8" font-size="17.9" textLength="42.5" lengthAdjust="spacingAndGlyphs">80816</text>
<text class="p" x="157.4" y="209.4" font-size="16" textLength="6.2" lengthAdjust="spacingAndGlyphs">(</text>
<text class="t" x="165.0" y="209.8" font-size="17.9" textLength="8" lengthAdjust="spacingAndGlyphs">4</text>
<text class="p" x="174.0" y="209.4" font-size="16" textLength="6.2" lengthAdjust="spacingAndGlyphs">)</text>
<use href="#kome" x="105" y="257"/><text class="k" x="112.2" y="262" font-size="12.6" textLength="5.8" lengthAdjust="spacingAndGlyphs">2</text>
<text class="t" x="121.9" y="261.5" font-size="17.9" textLength="42.5" lengthAdjust="spacingAndGlyphs">91551</text>
<rect x="166.6" y="255.7" width="6.2" height="1.9"/>
<text class="t" x="174.8" y="261.5" font-size="17.9" textLength="42.5" lengthAdjust="spacingAndGlyphs">80835</text>
<text class="p" x="218.9" y="261.1" font-size="16" textLength="6.2" lengthAdjust="spacingAndGlyphs">(</text>
<text class="t" x="226.5" y="261.5" font-size="17.9" textLength="8" lengthAdjust="spacingAndGlyphs">2</text>
<text class="p" x="235.5" y="261.1" font-size="16" textLength="6.2" lengthAdjust="spacingAndGlyphs">)</text>
<use href="#kome" x="105" y="273.2"/><text class="k" x="112.2" y="278.2" font-size="12.6" textLength="5.8" lengthAdjust="spacingAndGlyphs">3</text>
<text class="t" x="121.9" y="277.5" font-size="17.9" textLength="42.5" lengthAdjust="spacingAndGlyphs">90105</text>
<rect x="166.6" y="271.7" width="6.2" height="1.9"/>
<text class="t" x="174.8" y="277.5" font-size="17.9" textLength="42.5" lengthAdjust="spacingAndGlyphs">T0156</text>
<text class="p" x="218.9" y="277.1" font-size="16" textLength="6.2" lengthAdjust="spacingAndGlyphs">(</text>
<text class="t" x="226.5" y="277.5" font-size="17.9" textLength="8" lengthAdjust="spacingAndGlyphs">2</text>
<text class="p" x="235.5" y="277.1" font-size="16" textLength="6.2" lengthAdjust="spacingAndGlyphs">)</text>
<use href="#kome" x="138" y="401.3"/><text class="k" x="145.2" y="406.3" font-size="12.6" textLength="5.8" lengthAdjust="spacingAndGlyphs">2</text>
<text class="t" x="154.2" y="406.4" font-size="17.9" textLength="42.5" lengthAdjust="spacingAndGlyphs">91551</text>
<rect x="198.9" y="400.6" width="6.2" height="1.9"/>
<text class="t" x="207.1" y="406.4" font-size="17.9" textLength="42.5" lengthAdjust="spacingAndGlyphs">80850</text>
<text class="p" x="251.2" y="406.0" font-size="16" textLength="6.2" lengthAdjust="spacingAndGlyphs">(</text>
<text class="t" x="258.8" y="406.4" font-size="17.9" textLength="8" lengthAdjust="spacingAndGlyphs">2</text>
<text class="p" x="267.8" y="406.0" font-size="16" textLength="6.2" lengthAdjust="spacingAndGlyphs">)</text>
<use href="#kome" x="138" y="417"/><text class="k" x="145.2" y="422" font-size="12.6" textLength="5.8" lengthAdjust="spacingAndGlyphs">3</text>
<text class="t" x="154.2" y="421.8" font-size="17.9" textLength="42.5" lengthAdjust="spacingAndGlyphs">90105</text>
<rect x="198.9" y="416.0" width="6.2" height="1.9"/>
<text class="t" x="207.1" y="421.8" font-size="17.9" textLength="42.5" lengthAdjust="spacingAndGlyphs">T0158</text>
<text class="p" x="251.2" y="421.40000000000003" font-size="16" textLength="6.2" lengthAdjust="spacingAndGlyphs">(</text>
<text class="t" x="258.8" y="421.8" font-size="17.9" textLength="8" lengthAdjust="spacingAndGlyphs">2</text>
<text class="p" x="267.8" y="421.40000000000003" font-size="16" textLength="6.2" lengthAdjust="spacingAndGlyphs">)</text>
<text class="t" x="180.4" y="43.6" font-size="20.6" textLength="49.6" lengthAdjust="spacingAndGlyphs">16371</text>
<text class="t" x="287.0" y="482.3" font-size="20.6" textLength="49.4" lengthAdjust="spacingAndGlyphs">16620</text>
<ellipse cx="528.3" cy="119.4" rx="5.2" ry="6"/>
<text class="t" x="536.0" y="124.8" font-size="19.4" textLength="49" lengthAdjust="spacingAndGlyphs">16271</text>
<use href="#kome" x="263" y="234.6"/><text class="s" x="270" y="238.8" font-size="11.7">1</text>
<use href="#kome" x="387" y="234.6"/><text class="s" x="394" y="238.8" font-size="11.7">1</text>
<use href="#kome" x="75.2" y="318.2"/><text class="s" x="82.8" y="322.7" font-size="11.9">7</text>
</g>

<!-- HIGHLIGHT -->
<g id="hl">
<path d="M77.2,282.1 H233.4 A2.0,2.0 0 0 1 235.4,284.1 V350.2 A2.0,2.0 0 0 1 233.4,352.2 H77.2 A2.0,2.0 0 0 1 75.2,350.2 V284.1 A2.0,2.0 0 0 1 77.2,282.1 Z M81.6,287.9 H229.1 A0.6,0.6 0 0 1 229.7,288.5 V345.9 A0.6,0.6 0 0 1 229.1,346.5 H81.6 A0.6,0.6 0 0 1 81.0,345.9 V288.5 A0.6,0.6 0 0 1 81.6,287.9 Z" fill="#fa5050" fill-rule="evenodd"/>
<rect x="90" y="307.4" width="59" height="18.3" fill="#1890ff"/>
<text class="s" x="96.3" y="321.9" font-size="14.4" style="fill:#fff" textLength="47.6" lengthAdjust="spacingAndGlyphs">16630G</text>
<path d="M150,311 v2 M150,315 v2 M150,319 v2 M150,322.5 v1.5" stroke="#000" stroke-width="1.6" fill="none"/>
</g>
</svg>
</body>
</html>
